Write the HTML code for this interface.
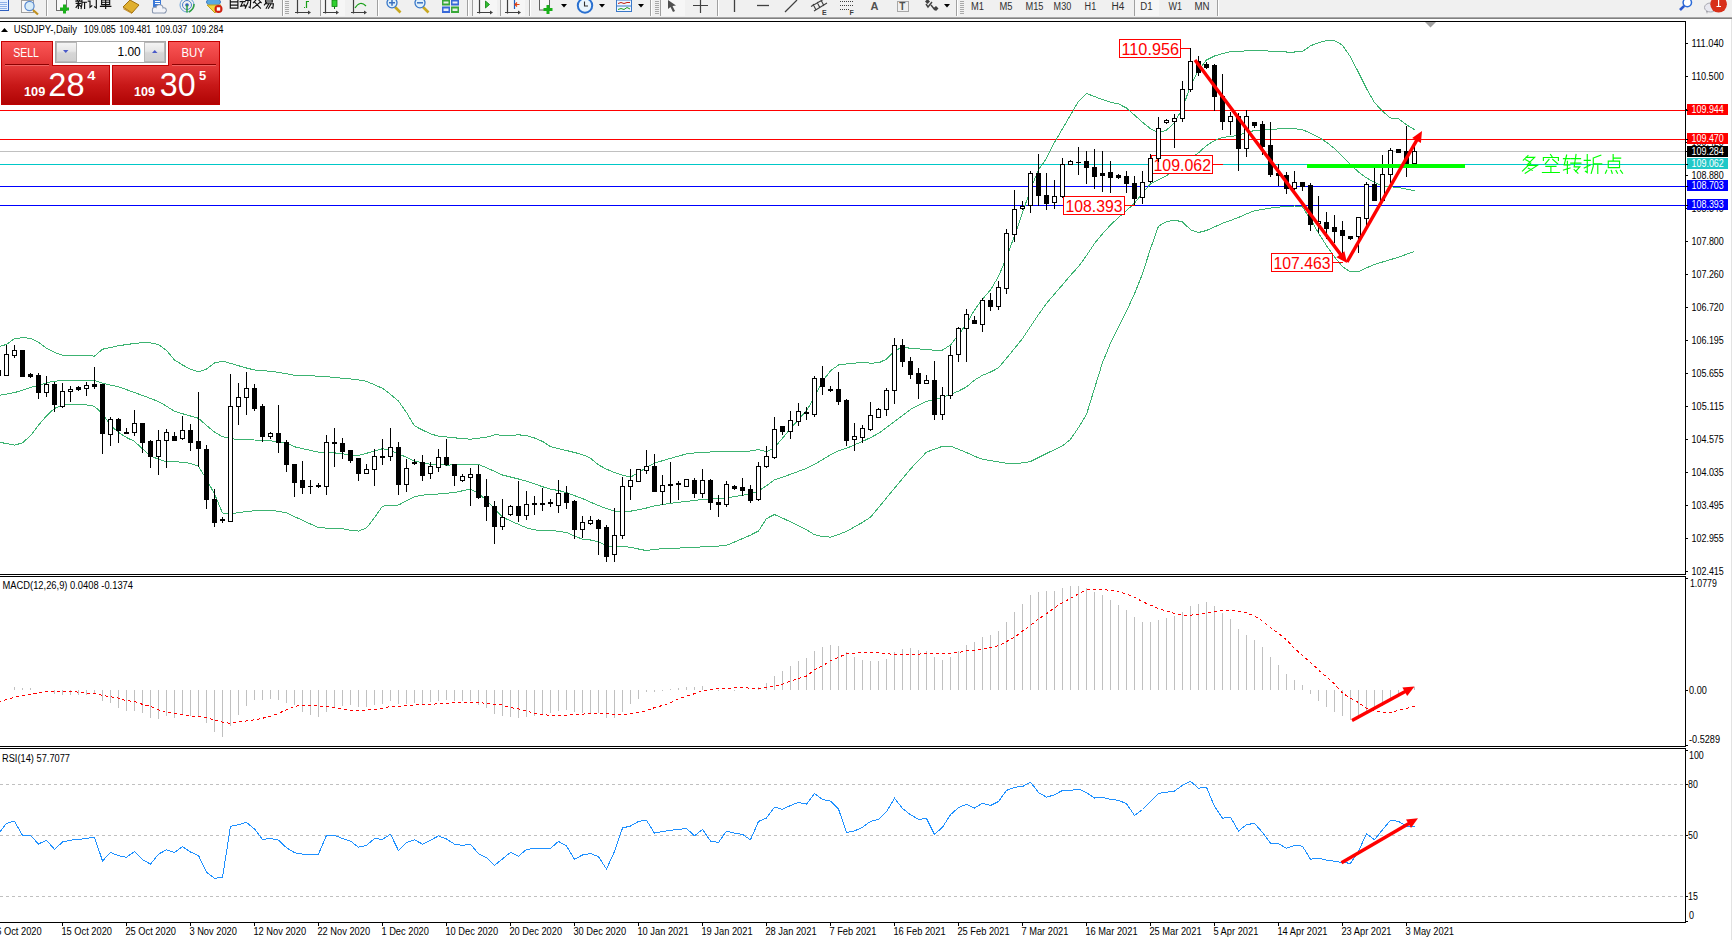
<!DOCTYPE html>
<html><head><meta charset="utf-8"><title>MT4 USDJPY Daily</title>
<style>html,body{margin:0;padding:0;background:#fff;width:1732px;height:940px;overflow:hidden}svg{display:block}</style>
</head><body>
<svg width="1732" height="940" viewBox="0 0 1732 940"><rect x="0" y="0" width="1732" height="17" fill="#f0f0f0"/>
<rect x="0" y="17" width="1732" height="1" fill="#a8a8a8"/>
<rect x="0" y="18" width="1732" height="1" fill="#808080"/>
<rect x="1731" y="19" width="1" height="921" fill="#e3e3e3"/>
<g id="tb"><g shape-rendering="crispEdges">
<rect x="0" y="0" width="9" height="11" fill="#e8f0ff"/><rect x="8" y="0" width="1" height="11" fill="#3060c0"/><rect x="0" y="10" width="9" height="1" fill="#3060c0"/>
<rect x="0" y="2" width="7" height="1" fill="#90b0e8"/>
<rect x="0" y="4" width="7" height="1" fill="#90b0e8"/>
<rect x="0" y="6" width="7" height="1" fill="#90b0e8"/>
<rect x="0" y="8" width="7" height="1" fill="#90b0e8"/>
<rect x="21" y="0" width="12" height="12" fill="#f8f8f8" stroke="#a0a0a0" stroke-width="1"/>
</g>
<circle cx="29.5" cy="6" r="4.6" fill="#d8ecf8" stroke="#5a8ad0" stroke-width="1.2"/><line x1="33" y1="10" x2="38" y2="14.5" stroke="#c09020" stroke-width="2.2"/>
<rect x="46" y="0" width="1" height="16" fill="#a0a0a0"/><rect x="47" y="0" width="1" height="16" fill="#ffffff"/>
<rect x="56.5" y="-1" width="10" height="11.5" fill="#f8f8f8" stroke="#707070" stroke-width="1"/>
<path d="M64.5,4.5 v9 M60,9 h9" stroke="#18b018" stroke-width="3"/>
<path transform="translate(75.50,-3.00) scale(1.150)" d="M2.5,0 L2.8,1 M0.5,1.5 L4.5,1.5 M1.2,2 L1.8,3.2 M3.8,2 L3.2,3.2 M0.3,3.6 L4.7,3.6 M0.6,5.6 L4.4,5.6 M2.5,3.6 L2.5,10 M2.5,6.2 L0.5,9 M2.5,6.2 L4.5,8 M9,0.5 L5.6,1.8 M5.6,1.8 L5.6,6 L4.9,10 M5.6,4.6 L9.6,4.6 M7.9,4.6 L7.9,10" fill="none" stroke="#101010" stroke-width="1.000" stroke-linecap="square" stroke-linejoin="miter"/>
<path transform="translate(87.70,-3.00) scale(1.150)" d="M1,0.5 L2,1.6 M0.5,3.6 L2,3.6 L2,9 L3.6,7.6 M4,1.6 L9.6,1.6 M7.5,1.6 L7.5,9.6 L6,8.6" fill="none" stroke="#101010" stroke-width="1.000" stroke-linecap="square" stroke-linejoin="miter"/>
<path transform="translate(99.90,-3.00) scale(1.150)" d="M2.5,0 L3.5,1.5 M7.5,0 L6.5,1.5 M1.5,2.6 L8.5,2.6 L8.5,6.6 L1.5,6.6 Z M1.5,4.6 L8.5,4.6 M0.5,8.2 L9.5,8.2 M5,2.6 L5,10" fill="none" stroke="#101010" stroke-width="1.000" stroke-linecap="square" stroke-linejoin="miter"/>
<polygon points="123,7 130,0 139,5 132,13" fill="#e0b030" stroke="#a07010" stroke-width="1"/><polygon points="124,8 132,13 132,14 123,9" fill="#c89028"/>
<rect x="153" y="0" width="8" height="7" fill="#3a78d8"/><rect x="155" y="1" width="5" height="1" fill="#ffffff"/><rect x="155" y="3" width="5" height="1" fill="#ffffff"/>
<g fill="#8a98b0"><circle cx="155" cy="10" r="3.2"/><circle cx="159.5" cy="8.2" r="4"/><circle cx="163.8" cy="10.2" r="3"/><rect x="152" y="10" width="14" height="3.6" rx="1.6"/></g>
<g fill="#f2f3f8"><circle cx="155" cy="10" r="2.2"/><circle cx="159.5" cy="8.2" r="3"/><circle cx="163.8" cy="10.2" r="2"/><rect x="153" y="10" width="12" height="2.6" rx="1"/></g>
<circle cx="187" cy="5" r="7" fill="none" stroke="#6aa0d8" stroke-width="1"/><circle cx="187" cy="5" r="4.5" fill="none" stroke="#4a80c8" stroke-width="1"/><circle cx="187" cy="5" r="1.8" fill="#3060c0"/><path d="M187,5 L187,12.5 M189,12 Q194,9 194,4" stroke="#30a040" stroke-width="1.5" fill="none"/>
<ellipse cx="213.5" cy="2" rx="7" ry="4" fill="#58a8e0" stroke="#3a78c0" stroke-width="1"/><polygon points="207,5 221,5 215,13" fill="#f0d840" stroke="#c0a020" stroke-width="1"/><circle cx="218.5" cy="9" r="4" fill="#d02010"/><rect x="216.8" y="7.3" width="3.4" height="3.4" fill="#fff"/>
<path transform="translate(228.50,-3.00) scale(1.120)" d="M5,0 L4,1.5 M1.6,1.6 L8.4,1.6 L8.4,10 L1.6,10 Z M1.6,4.4 L8.4,4.4 M1.6,7.2 L8.4,7.2" fill="none" stroke="#101010" stroke-width="1.027" stroke-linecap="square" stroke-linejoin="miter"/>
<path transform="translate(240.10,-3.00) scale(1.120)" d="M0.5,1.6 L4,1.6 M0,4.1 L4.5,4.1 M2.5,4.1 L0.6,8.2 L4.5,7.6 M3.5,6.5 L4.8,9 M5,3 L9.5,3 L9,9.6 L8,9 M7.3,0 L7,5 L4.6,10" fill="none" stroke="#101010" stroke-width="1.027" stroke-linecap="square" stroke-linejoin="miter"/>
<path transform="translate(251.70,-3.00) scale(1.120)" d="M5,0 L5.6,1 M0.5,2.1 L9.5,2.1 M3.5,3 L1.5,5 M6.5,3 L8.5,5 M3,5 L7.8,10 M7.2,5 L1,10" fill="none" stroke="#101010" stroke-width="1.027" stroke-linecap="square" stroke-linejoin="miter"/>
<path transform="translate(263.30,-3.00) scale(1.120)" d="M2,0.5 L8,0.5 L8,4.5 L2,4.5 Z M2,2.5 L8,2.5 M3,4.5 L1,7 M2.6,6 L9,6 L8.5,10 L7.5,9.5 M5,6 L2.6,10 M7,6 L4.6,10" fill="none" stroke="#101010" stroke-width="1.027" stroke-linecap="square" stroke-linejoin="miter"/>
<rect x="282" y="0" width="1" height="16" fill="#a0a0a0"/><rect x="283" y="0" width="1" height="16" fill="#ffffff"/>
<rect x="285" y="1" width="4" height="1" fill="#a8a8a8"/>
<rect x="285" y="3" width="4" height="1" fill="#a8a8a8"/>
<rect x="285" y="5" width="4" height="1" fill="#a8a8a8"/>
<rect x="285" y="7" width="4" height="1" fill="#a8a8a8"/>
<rect x="285" y="9" width="4" height="1" fill="#a8a8a8"/>
<rect x="285" y="11" width="4" height="1" fill="#a8a8a8"/>
<rect x="285" y="13" width="4" height="1" fill="#a8a8a8"/>
<path d="M297.5,0 V13.5 M295,12.5 H309" stroke="#404040" stroke-width="1.2" fill="none"/><polygon points="308,10.5 311,12.5 308,14.5" fill="#404040"/>
<path d="M306.5,1 V8 M305,7.5 H304 M306.5,1.5 H309" stroke="#18a018" stroke-width="1.2" fill="none"/>
<rect x="320" y="0" width="1" height="16" fill="#a0a0a0"/><rect x="321" y="0" width="1" height="16" fill="#ffffff"/>
<rect x="321" y="0" width="24" height="16" fill="#f6f6f6"/>
<path d="M325.5,0 V13.5 M323,12.5 H337" stroke="#404040" stroke-width="1.2" fill="none"/><polygon points="336,10.5 339,12.5 336,14.5" fill="#404040"/>
<rect x="332" y="0" width="5" height="6.5" fill="#30d030" stroke="#108010" stroke-width="0.8"/><path d="M334.5,6.5 V9" stroke="#108010" stroke-width="1"/>
<path d="M353.5,0 V13.5 M351,12.5 H365" stroke="#404040" stroke-width="1.2" fill="none"/><polygon points="364,10.5 367,12.5 364,14.5" fill="#404040"/>
<path d="M355,8 Q360,0 366,6" stroke="#18a018" stroke-width="1.2" fill="none"/>
<rect x="377" y="0" width="1" height="16" fill="#a0a0a0"/><rect x="378" y="0" width="1" height="16" fill="#ffffff"/>
<line x1="395.0" y1="7" x2="400.5" y2="12.5" stroke="#c8a820" stroke-width="2.6"/>
<circle cx="392.0" cy="2.8" r="5" fill="#e0f0fa" stroke="#3a78c8" stroke-width="1.3"/>
<path d="M389.0,2.8 h6 M392.0,-0.2 v6" stroke="#3a70c0" stroke-width="1.5" fill="none"/>
<line x1="423.0" y1="7" x2="428.5" y2="12.5" stroke="#c8a820" stroke-width="2.6"/>
<circle cx="420.0" cy="2.8" r="5" fill="#e0f0fa" stroke="#3a78c8" stroke-width="1.3"/>
<path d="M417.0,2.8 h6 " stroke="#3a70c0" stroke-width="1.5" fill="none"/>
<rect x="442" y="0" width="8" height="5.5" fill="#38a838"/><rect x="451" y="0" width="8" height="5.5" fill="#3868d8"/><rect x="442" y="6.5" width="8" height="6.5" fill="#3868d8"/><rect x="451" y="6.5" width="8" height="6.5" fill="#38a838"/>
<rect x="443.5" y="1.5" width="5" height="2" fill="#e8f0e8"/><rect x="452.5" y="1.5" width="5" height="2" fill="#e8eef8"/><rect x="443.5" y="8.5" width="5" height="2.5" fill="#e8eef8"/><rect x="452.5" y="8.5" width="5" height="2.5" fill="#e8f0e8"/>
<rect x="467" y="0" width="1" height="16" fill="#a0a0a0"/><rect x="468" y="0" width="1" height="16" fill="#ffffff"/>
<rect x="472" y="0" width="1" height="16" fill="#a0a0a0"/><rect x="473" y="0" width="1" height="16" fill="#ffffff"/>
<rect x="473" y="0" width="24" height="16" fill="#f6f6f6"/>
<path d="M479.5,0 V13.5 M477,12.5 H491" stroke="#404040" stroke-width="1.2" fill="none"/><polygon points="490,10.5 493,12.5 490,14.5" fill="#404040"/>
<polygon points="485.5,1 485.5,8 489.5,4.5" fill="#30c030" stroke="#108010" stroke-width="0.8"/>
<rect x="500" y="0" width="1" height="16" fill="#a0a0a0"/><rect x="501" y="0" width="1" height="16" fill="#ffffff"/>
<rect x="501" y="0" width="24" height="16" fill="#f6f6f6"/>
<path d="M507.5,0 V13.5 M505,12.5 H519" stroke="#404040" stroke-width="1.2" fill="none"/><polygon points="518,10.5 521,12.5 518,14.5" fill="#404040"/>
<path d="M514.5,0 V9" stroke="#2060c0" stroke-width="1.2"/><path d="M519.5,4.5 h-4 M517,2.5 l-2,2 l2,2" stroke="#e04010" stroke-width="1.2" fill="none"/>
<rect x="529" y="0" width="1" height="16" fill="#a0a0a0"/><rect x="530" y="0" width="1" height="16" fill="#ffffff"/>
<rect x="539.5" y="-1" width="10" height="11" fill="#f8f8f8" stroke="#606060" stroke-width="1"/><path d="M548,5 v9 M543.5,9.5 h9" stroke="#18b018" stroke-width="3"/>
<polygon points="561,4 567,4 564.0,7.5" fill="#000"/>
<circle cx="585" cy="5.5" r="7.2" fill="#e8f4fc" stroke="#2a70d0" stroke-width="2"/><path d="M584.5,1.5 V6 H588" stroke="#303030" stroke-width="1.1" fill="none"/>
<polygon points="599,4 605,4 602.0,7.5" fill="#000"/>
<rect x="616.5" y="0" width="15" height="11.5" fill="#f0f6ff" stroke="#3a78c8" stroke-width="1"/><rect x="617" y="5.5" width="14" height="1" fill="#3a78c8"/><path d="M618,3.5 l3,-1 l3,1 l3,-1 l3,0" stroke="#c02010" stroke-width="1" fill="none"/><path d="M618,9.5 l3,-1 l3,1 l3,-2 l3,1.5" stroke="#20a020" stroke-width="1" fill="none"/>
<polygon points="638,4 644,4 641.0,7.5" fill="#000"/>
<rect x="650" y="0" width="1" height="16" fill="#a0a0a0"/><rect x="651" y="0" width="1" height="16" fill="#ffffff"/>
<rect x="655" y="1" width="4" height="1" fill="#a8a8a8"/>
<rect x="655" y="3" width="4" height="1" fill="#a8a8a8"/>
<rect x="655" y="5" width="4" height="1" fill="#a8a8a8"/>
<rect x="655" y="7" width="4" height="1" fill="#a8a8a8"/>
<rect x="655" y="9" width="4" height="1" fill="#a8a8a8"/>
<rect x="655" y="11" width="4" height="1" fill="#a8a8a8"/>
<rect x="655" y="13" width="4" height="1" fill="#a8a8a8"/>
<rect x="660" y="0" width="1" height="16" fill="#a0a0a0"/><rect x="661" y="0" width="1" height="16" fill="#ffffff"/>
<rect x="661" y="0" width="24" height="16" fill="#f6f6f6"/>
<polygon points="668,0 676,5.5 672.5,6 675,11 673,12 670.5,7 668,9" fill="#505050"/>
<path d="M700.5,0 V13 M693,5.5 H708" stroke="#404040" stroke-width="1.2" fill="none"/>
<rect x="717" y="0" width="1" height="16" fill="#a0a0a0"/><rect x="718" y="0" width="1" height="16" fill="#ffffff"/>
<path d="M734.5,0 V12" stroke="#404040" stroke-width="1.3"/>
<path d="M757,5.5 H769" stroke="#404040" stroke-width="1.3"/>
<path d="M785,12 L797,0" stroke="#404040" stroke-width="1.2"/>
<path d="M811,6.5 L824,-1 M814,11 L827,3 M813,4 L816,10 M817,2 L820,8 M821,0 L824,6" stroke="#404040" stroke-width="1.1" fill="none"/>
<text x="822" y="14.5" font-family="'Liberation Sans',sans-serif" font-size="7" font-weight="bold" fill="#404040">E</text>
<path d="M840,1.5 H853 M840,5.5 H853 M840,9.5 H849" stroke="#404040" stroke-width="1" stroke-dasharray="1,1" fill="none"/>
<text x="849.5" y="14.5" font-family="'Liberation Sans',sans-serif" font-size="7" font-weight="bold" fill="#404040">F</text>
<text x="870.5" y="9.5" font-family="'Liberation Sans',sans-serif" font-size="11" font-weight="bold" fill="#505050">A</text>
<rect x="897.5" y="1.5" width="11" height="10" fill="none" stroke="#606060" stroke-width="1" stroke-dasharray="1,1"/><text x="899.3" y="10" font-family="'Liberation Sans',sans-serif" font-size="10" font-weight="bold" fill="#505050">T</text>
<path d="M926,4 l2,3 l4,-5 M931,5 l4,5" stroke="#404040" stroke-width="1.4" fill="none"/><polygon points="925,1.5 927.5,-1 930,1.5 927.5,4" fill="#404040"/><polygon points="933,8.5 936,6 938.5,8.5 936,11" fill="#404040"/>
<polygon points="944,4 950,4 947.0,7.5" fill="#000"/>
<rect x="956" y="0" width="1" height="16" fill="#a0a0a0"/><rect x="957" y="0" width="1" height="16" fill="#ffffff"/>
<rect x="960" y="1" width="4" height="1" fill="#a8a8a8"/>
<rect x="960" y="3" width="4" height="1" fill="#a8a8a8"/>
<rect x="960" y="5" width="4" height="1" fill="#a8a8a8"/>
<rect x="960" y="7" width="4" height="1" fill="#a8a8a8"/>
<rect x="960" y="9" width="4" height="1" fill="#a8a8a8"/>
<rect x="960" y="11" width="4" height="1" fill="#a8a8a8"/>
<rect x="960" y="13" width="4" height="1" fill="#a8a8a8"/>
<rect x="1134" y="0" width="1" height="16" fill="#a0a0a0"/><rect x="1135" y="0" width="24" height="16" fill="#f6f6f6"/>
<text x="971.0" y="9.6" textLength="13.0" lengthAdjust="spacingAndGlyphs" font-family="'Liberation Sans',sans-serif" font-size="10" fill="#303030">M1</text>
<text x="999.5" y="9.6" textLength="13.0" lengthAdjust="spacingAndGlyphs" font-family="'Liberation Sans',sans-serif" font-size="10" fill="#303030">M5</text>
<text x="1025.5" y="9.6" textLength="18.0" lengthAdjust="spacingAndGlyphs" font-family="'Liberation Sans',sans-serif" font-size="10" fill="#303030">M15</text>
<text x="1053.6" y="9.6" textLength="17.6" lengthAdjust="spacingAndGlyphs" font-family="'Liberation Sans',sans-serif" font-size="10" fill="#303030">M30</text>
<text x="1084.6" y="9.6" textLength="11.6" lengthAdjust="spacingAndGlyphs" font-family="'Liberation Sans',sans-serif" font-size="10" fill="#303030">H1</text>
<text x="1111.4" y="9.6" textLength="12.9" lengthAdjust="spacingAndGlyphs" font-family="'Liberation Sans',sans-serif" font-size="10" fill="#303030">H4</text>
<text x="1140.2" y="9.6" textLength="12.3" lengthAdjust="spacingAndGlyphs" font-family="'Liberation Sans',sans-serif" font-size="10" fill="#303030">D1</text>
<text x="1168.4" y="9.6" textLength="13.6" lengthAdjust="spacingAndGlyphs" font-family="'Liberation Sans',sans-serif" font-size="10" fill="#303030">W1</text>
<text x="1194.4" y="9.6" textLength="15.1" lengthAdjust="spacingAndGlyphs" font-family="'Liberation Sans',sans-serif" font-size="10" fill="#303030">MN</text>
<rect x="1217" y="0" width="1" height="16" fill="#a0a0a0"/><rect x="1218" y="0" width="1" height="16" fill="#ffffff"/>
<circle cx="1687.3" cy="2.6" r="4.2" fill="#fff" stroke="#2a6ad8" stroke-width="1.5"/><line x1="1684.2" y1="5.8" x2="1680" y2="10" stroke="#2a5ad0" stroke-width="2.6"/>
<ellipse cx="1710.5" cy="7.5" rx="6" ry="4.5" fill="#e8e8f0" stroke="#a8a8b0" stroke-width="1"/><polygon points="1706,11 1708,11 1707,14" fill="#a0a0a8"/>
<circle cx="1718.6" cy="4.3" r="8.3" fill="#d8301a"/><path d="M1718.6,-1 V6.5 M1716.5,6.5 H1721" stroke="#fff" stroke-width="1.2"/></g>
<g shape-rendering="crispEdges" fill="#000">
<rect x="0" y="21" width="1686" height="1"/>
<rect x="1685" y="21" width="1" height="554"/>
<rect x="0" y="574" width="1686" height="1"/>
<rect x="0" y="576" width="1686" height="1"/>
<rect x="1685" y="576" width="1" height="171"/>
<rect x="0" y="746" width="1686" height="1"/>
<rect x="0" y="748" width="1686" height="1"/>
<rect x="1685" y="748" width="1" height="175"/>
<rect x="0" y="922" width="1686" height="1"/>
</g>

<g shape-rendering="crispEdges">
<rect x="0" y="110" width="1685" height="1" fill="#ff0000"/>
<rect x="0" y="139" width="1685" height="1" fill="#ff0000"/>
<rect x="0" y="151" width="1685" height="1" fill="#c0c0c0"/>
<rect x="0" y="164" width="1685" height="1" fill="#00c8c8"/>
<rect x="0" y="186" width="1685" height="1" fill="#0000ff"/>
<rect x="0" y="205" width="1685" height="1" fill="#0000ff"/>
<line x1="0" y1="784.5" x2="1685" y2="784.5" stroke="#c0c0c0" stroke-width="1" stroke-dasharray="3,3"/>
<line x1="0" y1="835.5" x2="1685" y2="835.5" stroke="#c0c0c0" stroke-width="1" stroke-dasharray="3,3"/>
<line x1="0" y1="896.5" x2="1685" y2="896.5" stroke="#c0c0c0" stroke-width="1" stroke-dasharray="3,3"/>
<rect x="14" y="687" width="1" height="3" fill="#c0c0c0"/>
<rect x="22" y="688" width="1" height="2" fill="#c0c0c0"/>
<rect x="30" y="688" width="1" height="2" fill="#c0c0c0"/>
<rect x="54" y="690" width="1" height="4" fill="#c0c0c0"/>
<rect x="62" y="690" width="1" height="5" fill="#c0c0c0"/>
<rect x="70" y="690" width="1" height="5" fill="#c0c0c0"/>
<rect x="78" y="690" width="1" height="5" fill="#c0c0c0"/>
<rect x="86" y="690" width="1" height="5" fill="#c0c0c0"/>
<rect x="94" y="690" width="1" height="4" fill="#c0c0c0"/>
<rect x="102" y="690" width="1" height="11" fill="#c0c0c0"/>
<rect x="110" y="690" width="1" height="13" fill="#c0c0c0"/>
<rect x="118" y="690" width="1" height="18" fill="#c0c0c0"/>
<rect x="126" y="690" width="1" height="21" fill="#c0c0c0"/>
<rect x="134" y="690" width="1" height="21" fill="#c0c0c0"/>
<rect x="142" y="690" width="1" height="23" fill="#c0c0c0"/>
<rect x="150" y="690" width="1" height="28" fill="#c0c0c0"/>
<rect x="158" y="690" width="1" height="29" fill="#c0c0c0"/>
<rect x="166" y="690" width="1" height="26" fill="#c0c0c0"/>
<rect x="174" y="690" width="1" height="28" fill="#c0c0c0"/>
<rect x="182" y="690" width="1" height="25" fill="#c0c0c0"/>
<rect x="190" y="690" width="1" height="26" fill="#c0c0c0"/>
<rect x="198" y="690" width="1" height="27" fill="#c0c0c0"/>
<rect x="206" y="690" width="1" height="33" fill="#c0c0c0"/>
<rect x="214" y="690" width="1" height="42" fill="#c0c0c0"/>
<rect x="222" y="690" width="1" height="47" fill="#c0c0c0"/>
<rect x="230" y="690" width="1" height="36" fill="#c0c0c0"/>
<rect x="238" y="690" width="1" height="25" fill="#c0c0c0"/>
<rect x="246" y="690" width="1" height="16" fill="#c0c0c0"/>
<rect x="254" y="690" width="1" height="10" fill="#c0c0c0"/>
<rect x="262" y="690" width="1" height="10" fill="#c0c0c0"/>
<rect x="270" y="690" width="1" height="9" fill="#c0c0c0"/>
<rect x="278" y="690" width="1" height="10" fill="#c0c0c0"/>
<rect x="286" y="690" width="1" height="13" fill="#c0c0c0"/>
<rect x="294" y="690" width="1" height="15" fill="#c0c0c0"/>
<rect x="302" y="690" width="1" height="22" fill="#c0c0c0"/>
<rect x="310" y="690" width="1" height="25" fill="#c0c0c0"/>
<rect x="318" y="690" width="1" height="27" fill="#c0c0c0"/>
<rect x="326" y="690" width="1" height="22" fill="#c0c0c0"/>
<rect x="334" y="690" width="1" height="18" fill="#c0c0c0"/>
<rect x="342" y="690" width="1" height="16" fill="#c0c0c0"/>
<rect x="350" y="690" width="1" height="15" fill="#c0c0c0"/>
<rect x="358" y="690" width="1" height="17" fill="#c0c0c0"/>
<rect x="366" y="690" width="1" height="17" fill="#c0c0c0"/>
<rect x="374" y="690" width="1" height="15" fill="#c0c0c0"/>
<rect x="382" y="690" width="1" height="14" fill="#c0c0c0"/>
<rect x="390" y="690" width="1" height="11" fill="#c0c0c0"/>
<rect x="398" y="690" width="1" height="14" fill="#c0c0c0"/>
<rect x="406" y="690" width="1" height="14" fill="#c0c0c0"/>
<rect x="414" y="690" width="1" height="13" fill="#c0c0c0"/>
<rect x="422" y="690" width="1" height="14" fill="#c0c0c0"/>
<rect x="430" y="690" width="1" height="12" fill="#c0c0c0"/>
<rect x="438" y="690" width="1" height="11" fill="#c0c0c0"/>
<rect x="446" y="690" width="1" height="10" fill="#c0c0c0"/>
<rect x="454" y="690" width="1" height="11" fill="#c0c0c0"/>
<rect x="462" y="690" width="1" height="11" fill="#c0c0c0"/>
<rect x="470" y="690" width="1" height="11" fill="#c0c0c0"/>
<rect x="478" y="690" width="1" height="15" fill="#c0c0c0"/>
<rect x="486" y="690" width="1" height="18" fill="#c0c0c0"/>
<rect x="494" y="690" width="1" height="24" fill="#c0c0c0"/>
<rect x="502" y="690" width="1" height="26" fill="#c0c0c0"/>
<rect x="510" y="690" width="1" height="27" fill="#c0c0c0"/>
<rect x="518" y="690" width="1" height="28" fill="#c0c0c0"/>
<rect x="526" y="690" width="1" height="27" fill="#c0c0c0"/>
<rect x="534" y="690" width="1" height="26" fill="#c0c0c0"/>
<rect x="542" y="690" width="1" height="24" fill="#c0c0c0"/>
<rect x="550" y="690" width="1" height="23" fill="#c0c0c0"/>
<rect x="558" y="690" width="1" height="21" fill="#c0c0c0"/>
<rect x="566" y="690" width="1" height="20" fill="#c0c0c0"/>
<rect x="574" y="690" width="1" height="22" fill="#c0c0c0"/>
<rect x="582" y="690" width="1" height="23" fill="#c0c0c0"/>
<rect x="590" y="690" width="1" height="23" fill="#c0c0c0"/>
<rect x="598" y="690" width="1" height="23" fill="#c0c0c0"/>
<rect x="606" y="690" width="1" height="28" fill="#c0c0c0"/>
<rect x="614" y="690" width="1" height="28" fill="#c0c0c0"/>
<rect x="622" y="690" width="1" height="22" fill="#c0c0c0"/>
<rect x="630" y="690" width="1" height="14" fill="#c0c0c0"/>
<rect x="638" y="690" width="1" height="9" fill="#c0c0c0"/>
<rect x="646" y="690" width="1" height="2" fill="#c0c0c0"/>
<rect x="654" y="690" width="1" height="2" fill="#c0c0c0"/>
<rect x="662" y="690" width="1" height="1" fill="#c0c0c0"/>
<rect x="670" y="689" width="1" height="1" fill="#c0c0c0"/>
<rect x="678" y="688" width="1" height="2" fill="#c0c0c0"/>
<rect x="686" y="687" width="1" height="3" fill="#c0c0c0"/>
<rect x="694" y="687" width="1" height="3" fill="#c0c0c0"/>
<rect x="702" y="686" width="1" height="4" fill="#c0c0c0"/>
<rect x="710" y="689" width="1" height="1" fill="#c0c0c0"/>
<rect x="718" y="690" width="1" height="1" fill="#c0c0c0"/>
<rect x="734" y="690" width="1" height="1" fill="#c0c0c0"/>
<rect x="758" y="687" width="1" height="3" fill="#c0c0c0"/>
<rect x="766" y="683" width="1" height="7" fill="#c0c0c0"/>
<rect x="774" y="676" width="1" height="14" fill="#c0c0c0"/>
<rect x="782" y="671" width="1" height="19" fill="#c0c0c0"/>
<rect x="790" y="666" width="1" height="24" fill="#c0c0c0"/>
<rect x="798" y="661" width="1" height="29" fill="#c0c0c0"/>
<rect x="806" y="658" width="1" height="32" fill="#c0c0c0"/>
<rect x="814" y="651" width="1" height="39" fill="#c0c0c0"/>
<rect x="822" y="647" width="1" height="43" fill="#c0c0c0"/>
<rect x="830" y="645" width="1" height="45" fill="#c0c0c0"/>
<rect x="838" y="646" width="1" height="44" fill="#c0c0c0"/>
<rect x="846" y="652" width="1" height="38" fill="#c0c0c0"/>
<rect x="854" y="657" width="1" height="33" fill="#c0c0c0"/>
<rect x="862" y="660" width="1" height="30" fill="#c0c0c0"/>
<rect x="870" y="661" width="1" height="29" fill="#c0c0c0"/>
<rect x="878" y="661" width="1" height="29" fill="#c0c0c0"/>
<rect x="886" y="659" width="1" height="31" fill="#c0c0c0"/>
<rect x="894" y="652" width="1" height="38" fill="#c0c0c0"/>
<rect x="902" y="649" width="1" height="41" fill="#c0c0c0"/>
<rect x="910" y="648" width="1" height="42" fill="#c0c0c0"/>
<rect x="918" y="650" width="1" height="40" fill="#c0c0c0"/>
<rect x="926" y="651" width="1" height="39" fill="#c0c0c0"/>
<rect x="934" y="657" width="1" height="33" fill="#c0c0c0"/>
<rect x="942" y="660" width="1" height="30" fill="#c0c0c0"/>
<rect x="950" y="657" width="1" height="33" fill="#c0c0c0"/>
<rect x="958" y="651" width="1" height="39" fill="#c0c0c0"/>
<rect x="966" y="645" width="1" height="45" fill="#c0c0c0"/>
<rect x="974" y="642" width="1" height="48" fill="#c0c0c0"/>
<rect x="982" y="637" width="1" height="53" fill="#c0c0c0"/>
<rect x="990" y="635" width="1" height="55" fill="#c0c0c0"/>
<rect x="998" y="631" width="1" height="59" fill="#c0c0c0"/>
<rect x="1006" y="622" width="1" height="68" fill="#c0c0c0"/>
<rect x="1014" y="612" width="1" height="78" fill="#c0c0c0"/>
<rect x="1022" y="604" width="1" height="86" fill="#c0c0c0"/>
<rect x="1030" y="595" width="1" height="95" fill="#c0c0c0"/>
<rect x="1038" y="592" width="1" height="98" fill="#c0c0c0"/>
<rect x="1046" y="591" width="1" height="99" fill="#c0c0c0"/>
<rect x="1054" y="591" width="1" height="99" fill="#c0c0c0"/>
<rect x="1062" y="588" width="1" height="102" fill="#c0c0c0"/>
<rect x="1070" y="586" width="1" height="104" fill="#c0c0c0"/>
<rect x="1078" y="586" width="1" height="104" fill="#c0c0c0"/>
<rect x="1086" y="588" width="1" height="102" fill="#c0c0c0"/>
<rect x="1094" y="592" width="1" height="98" fill="#c0c0c0"/>
<rect x="1102" y="595" width="1" height="95" fill="#c0c0c0"/>
<rect x="1110" y="600" width="1" height="90" fill="#c0c0c0"/>
<rect x="1118" y="605" width="1" height="85" fill="#c0c0c0"/>
<rect x="1126" y="610" width="1" height="80" fill="#c0c0c0"/>
<rect x="1134" y="617" width="1" height="73" fill="#c0c0c0"/>
<rect x="1142" y="622" width="1" height="68" fill="#c0c0c0"/>
<rect x="1150" y="622" width="1" height="68" fill="#c0c0c0"/>
<rect x="1158" y="620" width="1" height="70" fill="#c0c0c0"/>
<rect x="1166" y="618" width="1" height="72" fill="#c0c0c0"/>
<rect x="1174" y="616" width="1" height="74" fill="#c0c0c0"/>
<rect x="1182" y="612" width="1" height="78" fill="#c0c0c0"/>
<rect x="1190" y="606" width="1" height="84" fill="#c0c0c0"/>
<rect x="1198" y="604" width="1" height="86" fill="#c0c0c0"/>
<rect x="1206" y="602" width="1" height="88" fill="#c0c0c0"/>
<rect x="1214" y="606" width="1" height="84" fill="#c0c0c0"/>
<rect x="1222" y="613" width="1" height="77" fill="#c0c0c0"/>
<rect x="1230" y="619" width="1" height="71" fill="#c0c0c0"/>
<rect x="1238" y="629" width="1" height="61" fill="#c0c0c0"/>
<rect x="1246" y="635" width="1" height="55" fill="#c0c0c0"/>
<rect x="1254" y="640" width="1" height="50" fill="#c0c0c0"/>
<rect x="1262" y="647" width="1" height="43" fill="#c0c0c0"/>
<rect x="1270" y="657" width="1" height="33" fill="#c0c0c0"/>
<rect x="1278" y="665" width="1" height="25" fill="#c0c0c0"/>
<rect x="1286" y="674" width="1" height="16" fill="#c0c0c0"/>
<rect x="1294" y="680" width="1" height="10" fill="#c0c0c0"/>
<rect x="1302" y="685" width="1" height="5" fill="#c0c0c0"/>
<rect x="1310" y="690" width="1" height="4" fill="#c0c0c0"/>
<rect x="1318" y="690" width="1" height="11" fill="#c0c0c0"/>
<rect x="1326" y="690" width="1" height="17" fill="#c0c0c0"/>
<rect x="1334" y="690" width="1" height="22" fill="#c0c0c0"/>
<rect x="1342" y="690" width="1" height="26" fill="#c0c0c0"/>
<rect x="1350" y="690" width="1" height="30" fill="#c0c0c0"/>
<rect x="1358" y="690" width="1" height="29" fill="#c0c0c0"/>
<rect x="1366" y="690" width="1" height="22" fill="#c0c0c0"/>
<rect x="1374" y="690" width="1" height="18" fill="#c0c0c0"/>
<rect x="1382" y="690" width="1" height="16" fill="#c0c0c0"/>
<rect x="1390" y="690" width="1" height="10" fill="#c0c0c0"/>
<rect x="1398" y="690" width="1" height="4" fill="#c0c0c0"/>
<rect x="1414" y="687" width="1" height="3" fill="#c0c0c0"/>
</g>
<polyline points="-1.5,346.9 6.5,344.4 14.5,338.7 22.5,337.6 30.5,338.3 38.5,342.3 46.5,348.2 54.5,352.4 62.5,355.1 70.5,355.6 78.5,355.6 86.5,355.6 94.5,356.1 102.5,349.2 110.5,347.6 118.5,345.7 126.5,344.6 134.5,343.4 142.5,342.7 150.5,342.8 158.5,344.6 166.5,350.5 174.5,359.9 182.5,365.0 190.5,369.2 198.5,371.9 206.5,369.1 214.5,363.0 222.5,361.2 230.5,363.3 238.5,365.7 246.5,368.0 254.5,370.0 262.5,370.7 270.5,371.3 278.5,372.3 286.5,373.8 294.5,375.2 302.5,375.5 310.5,375.8 318.5,376.2 326.5,376.7 334.5,377.5 342.5,378.2 350.5,379.0 358.5,380.0 366.5,381.3 374.5,384.8 382.5,388.3 390.5,394.3 398.5,401.1 406.5,412.5 414.5,425.9 422.5,430.0 430.5,433.8 438.5,436.2 446.5,437.0 454.5,437.8 462.5,438.6 470.5,439.2 478.5,438.2 486.5,437.2 494.5,434.9 502.5,435.1 510.5,435.5 518.5,434.8 526.5,435.6 534.5,438.0 542.5,441.4 550.5,446.6 558.5,448.7 566.5,450.5 574.5,452.5 582.5,454.6 590.5,458.2 598.5,464.9 606.5,469.2 614.5,472.5 622.5,475.2 630.5,477.2 638.5,472.6 646.5,467.4 654.5,463.1 662.5,460.7 670.5,458.4 678.5,456.1 686.5,453.9 694.5,453.0 702.5,452.2 710.5,452.0 718.5,451.8 726.5,451.6 734.5,451.4 742.5,451.2 750.5,451.0 758.5,449.5 766.5,451.8 774.5,447.5 782.5,438.2 790.5,428.6 798.5,419.6 806.5,410.6 814.5,397.2 822.5,381.2 830.5,370.8 838.5,365.0 846.5,363.9 854.5,363.1 862.5,362.6 870.5,363.1 878.5,362.9 886.5,359.2 894.5,351.2 902.5,346.8 910.5,348.4 918.5,348.9 926.5,349.5 934.5,350.2 942.5,350.1 950.5,345.0 958.5,334.9 966.5,323.7 974.5,310.1 982.5,299.2 990.5,289.9 998.5,276.5 1006.5,257.6 1014.5,235.6 1022.5,212.8 1030.5,189.5 1038.5,169.8 1046.5,158.4 1054.5,142.4 1078.5,101.3 1086.5,93.5 1094.5,96.5 1102.5,99.6 1110.5,102.2 1118.5,103.9 1126.5,108.0 1134.5,115.1 1142.5,122.3 1150.5,128.7 1158.5,132.7 1166.5,130.2 1174.5,122.3 1182.5,108.6 1190.5,85.4 1198.5,70.5 1206.5,60.0 1214.5,56.0 1222.5,53.5 1230.5,51.6 1238.5,51.2 1246.5,50.9 1254.5,50.6 1262.5,50.8 1270.5,51.1 1278.5,51.5 1286.5,52.0 1294.5,52.0 1302.5,51.5 1310.5,45.8 1318.5,42.7 1326.5,40.6 1334.5,40.6 1342.5,45.2 1350.5,57.0 1358.5,72.5 1366.5,88.5 1374.5,102.5 1382.5,111.3 1390.5,118.0 1398.5,118.8 1406.5,124.8 1414.5,129.6" fill="none" stroke="#3cb371" stroke-width="1" shape-rendering="crispEdges"/>
<polyline points="-1.5,395.4 6.5,394.1 14.5,392.6 22.5,390.2 30.5,387.4 38.5,385.5 46.5,382.7 54.5,381.3 62.5,380.4 70.5,380.4 78.5,380.4 86.5,380.4 94.5,380.4 102.5,383.2 110.5,385.1 118.5,386.7 126.5,389.6 134.5,392.6 142.5,395.4 150.5,398.5 158.5,401.5 166.5,406.2 174.5,411.3 182.5,413.7 190.5,416.0 198.5,418.3 206.5,425.4 214.5,432.0 222.5,436.7 230.5,438.6 238.5,439.6 246.5,439.8 254.5,440.0 262.5,440.2 270.5,440.9 278.5,441.7 286.5,442.7 294.5,446.8 302.5,448.6 310.5,450.4 318.5,452.2 326.5,452.6 334.5,452.9 342.5,453.8 350.5,455.0 358.5,455.3 366.5,453.3 374.5,451.1 382.5,448.7 390.5,450.5 398.5,453.7 406.5,457.3 414.5,461.0 422.5,462.7 430.5,464.2 438.5,464.7 446.5,465.1 454.5,464.9 462.5,464.7 470.5,464.5 478.5,464.4 486.5,467.8 494.5,471.4 502.5,475.0 510.5,477.0 518.5,479.0 526.5,481.1 534.5,483.9 542.5,486.7 550.5,489.2 558.5,490.5 566.5,492.6 574.5,495.6 582.5,498.6 590.5,502.1 598.5,505.6 606.5,508.5 614.5,511.2 622.5,511.2 630.5,511.2 638.5,509.7 646.5,508.0 654.5,505.9 662.5,504.5 670.5,503.3 678.5,502.3 686.5,501.4 694.5,500.4 702.5,499.5 710.5,498.9 718.5,498.6 726.5,497.9 734.5,496.6 742.5,495.2 750.5,493.9 758.5,491.0 766.5,485.7 774.5,479.7 782.5,477.1 790.5,474.3 798.5,471.3 806.5,468.3 814.5,464.4 822.5,459.7 830.5,454.7 838.5,450.7 846.5,448.3 854.5,444.8 862.5,441.4 870.5,437.6 878.5,433.4 886.5,427.4 894.5,421.4 902.5,415.4 910.5,409.4 918.5,405.4 926.5,401.4 934.5,399.7 942.5,397.3 950.5,394.4 958.5,391.1 966.5,386.9 974.5,380.1 982.5,375.3 990.5,372.0 998.5,367.9 1006.5,358.2 1014.5,348.5 1022.5,338.6 1030.5,326.6 1038.5,314.6 1046.5,303.4 1054.5,294.0 1062.5,284.8 1070.5,275.3 1078.5,266.5 1086.5,255.6 1094.5,243.4 1102.5,233.8 1110.5,225.0 1118.5,217.5 1126.5,210.6 1134.5,203.2 1142.5,193.2 1150.5,183.8 1158.5,179.8 1166.5,175.8 1198.5,152.8 1206.5,145.6 1214.5,140.5 1222.5,137.4 1230.5,136.6 1238.5,135.1 1246.5,132.6 1254.5,130.5 1262.5,130.0 1270.5,129.5 1278.5,128.9 1286.5,128.3 1294.5,128.7 1302.5,129.7 1310.5,133.2 1318.5,137.1 1326.5,142.2 1334.5,148.6 1342.5,156.4 1350.5,164.4 1358.5,172.1 1366.5,177.9 1374.5,182.5 1382.5,185.6 1390.5,186.7 1398.5,187.6 1406.5,189.1 1414.5,190.6" fill="none" stroke="#3cb371" stroke-width="1" shape-rendering="crispEdges"/>
<polyline points="-1.5,442.2 6.5,443.5 14.5,445.2 22.5,442.8 30.5,435.8 38.5,425.2 46.5,415.8 54.5,408.4 62.5,405.4 70.5,404.3 78.5,404.7 86.5,405.0 94.5,406.3 102.5,413.9 110.5,425.3 118.5,432.4 126.5,437.5 134.5,441.4 142.5,448.9 150.5,455.8 158.5,459.3 166.5,461.6 174.5,461.6 182.5,462.3 190.5,463.3 198.5,466.3 206.5,479.3 214.5,493.9 222.5,513.0 230.5,513.6 238.5,512.7 246.5,511.5 254.5,510.8 262.5,510.6 270.5,510.5 278.5,511.2 286.5,512.9 294.5,516.6 302.5,520.3 310.5,524.0 318.5,527.7 326.5,528.1 334.5,528.3 342.5,528.8 350.5,530.2 358.5,531.1 366.5,527.9 374.5,517.7 382.5,506.1 390.5,505.6 398.5,505.0 406.5,500.8 414.5,496.6 422.5,495.2 430.5,494.2 438.5,494.0 446.5,493.3 454.5,492.5 462.5,490.8 470.5,489.0 478.5,493.3 486.5,500.4 494.5,508.9 502.5,517.2 510.5,520.8 518.5,524.4 526.5,527.8 534.5,529.8 542.5,530.9 550.5,530.5 558.5,531.2 566.5,532.5 574.5,535.9 582.5,539.3 590.5,540.0 598.5,541.8 606.5,545.8 614.5,547.1 622.5,546.5 630.5,547.2 638.5,549.0 646.5,550.6 654.5,549.3 662.5,548.8 670.5,548.4 678.5,548.1 686.5,547.7 694.5,547.3 702.5,546.9 710.5,546.5 718.5,546.1 726.5,545.3 734.5,542.0 742.5,538.6 750.5,535.1 758.5,531.0 766.5,518.6 774.5,514.5 782.5,518.1 790.5,521.8 798.5,525.8 806.5,529.8 814.5,534.7 822.5,536.5 830.5,537.1 838.5,534.5 846.5,531.4 854.5,526.9 862.5,522.4 870.5,517.2 910.5,469.0 918.5,460.3 926.5,452.2 934.5,449.1 942.5,446.3 950.5,446.1 958.5,449.3 966.5,452.5 974.5,456.3 982.5,459.1 990.5,460.6 998.5,461.9 1006.5,463.2 1014.5,463.7 1022.5,462.9 1030.5,461.5 1038.5,457.5 1046.5,453.5 1062.5,445.8 1070.5,439.4 1078.5,427.5 1086.5,414.4 1094.5,388.4 1102.5,362.6 1110.5,343.2 1118.5,327.2 1126.5,311.2 1134.5,293.7 1142.5,273.7 1150.5,248.7 1158.5,226.1 1166.5,221.6 1174.5,220.1 1182.5,221.9 1190.5,229.7 1198.5,232.5 1206.5,230.5 1214.5,226.9 1222.5,223.3 1230.5,220.5 1238.5,217.4 1246.5,213.9 1254.5,210.8 1262.5,209.4 1270.5,208.1 1278.5,207.2 1286.5,206.4 1294.5,206.0 1302.5,207.0 1310.5,219.2 1318.5,233.1 1326.5,245.7 1334.5,256.9 1342.5,266.6 1350.5,272.0 1358.5,271.9 1366.5,267.9 1374.5,264.4 1382.5,262.0 1390.5,259.6 1398.5,257.2 1406.5,254.3 1414.5,251.5" fill="none" stroke="#3cb371" stroke-width="1" shape-rendering="crispEdges"/>
<polyline points="-1.5,701.7 6.5,699.5 14.5,697.5 22.5,695.3 30.5,694.4 38.5,692.6 46.5,691.2 54.5,691.2 62.5,691.4 70.5,691.4 78.5,692.1 86.5,693.5 94.5,693.5 102.5,695.3 110.5,696.8 118.5,698.1 126.5,700.8 134.5,701.3 142.5,704.4 150.5,706.2 158.5,709.8 166.5,712.0 174.5,713.4 182.5,714.3 190.5,716.1 198.5,716.7 206.5,717.4 214.5,720.3 222.5,722.1 230.5,723.4 238.5,722.1 246.5,721.0 254.5,719.8 262.5,718.3 270.5,716.1 278.5,713.4 286.5,709.8 294.5,706.2 302.5,705.5 310.5,705.5 318.5,705.8 326.5,706.7 334.5,707.9 342.5,708.9 350.5,710.2 358.5,710.5 366.5,710.2 374.5,709.3 382.5,708.4 390.5,706.3 398.5,706.2 406.5,705.5 414.5,705.1 422.5,704.6 430.5,704.4 438.5,703.7 446.5,703.4 454.5,702.4 462.5,702.4 470.5,702.4 478.5,702.4 486.5,703.4 494.5,704.1 502.5,705.1 510.5,707.6 518.5,708.8 526.5,711.0 534.5,713.6 542.5,714.5 550.5,715.4 558.5,715.4 566.5,715.4 574.5,714.5 582.5,714.1 590.5,713.6 598.5,713.6 606.5,713.6 614.5,714.5 622.5,714.5 630.5,713.6 638.5,712.4 646.5,710.7 654.5,707.6 662.5,705.5 670.5,702.7 678.5,698.9 686.5,696.3 694.5,693.7 702.5,690.6 710.5,689.5 718.5,688.5 726.5,688.5 734.5,687.8 742.5,687.5 750.5,688.2 758.5,688.5 766.5,687.1 774.5,686.4 782.5,684.2 790.5,681.2 798.5,678.5 806.5,676.0 814.5,669.8 822.5,666.0 830.5,660.8 838.5,657.3 846.5,653.9 854.5,653.3 862.5,652.5 870.5,652.5 878.5,652.5 886.5,653.6 894.5,654.5 902.5,654.5 910.5,654.5 918.5,654.1 926.5,653.6 934.5,653.6 942.5,653.6 950.5,653.6 958.5,652.4 966.5,651.0 974.5,650.2 982.5,649.3 990.5,647.2 998.5,645.8 1006.5,641.5 1014.5,637.2 1022.5,631.1 1030.5,625.4 1038.5,619.0 1046.5,613.8 1054.5,607.7 1062.5,602.9 1070.5,598.2 1078.5,593.9 1086.5,590.0 1094.5,589.5 1102.5,589.5 1110.5,590.4 1118.5,591.8 1126.5,593.9 1134.5,597.3 1142.5,601.7 1150.5,605.1 1158.5,608.6 1166.5,611.2 1174.5,613.3 1182.5,615.5 1190.5,615.2 1198.5,614.1 1206.5,613.3 1214.5,612.0 1222.5,610.5 1230.5,610.5 1238.5,611.5 1246.5,612.9 1254.5,616.0 1262.5,621.2 1270.5,627.6 1278.5,633.4 1286.5,639.8 1294.5,648.4 1302.5,655.4 1310.5,662.3 1318.5,670.1 1326.5,677.0 1334.5,683.9 1342.5,693.0 1350.5,698.1 1358.5,702.5 1366.5,708.3 1374.5,710.8 1382.5,712.4 1390.5,712.4 1398.5,710.5 1406.5,708.3 1414.5,706.4" fill="none" stroke="#ff0000" stroke-width="1" stroke-dasharray="3,3" shape-rendering="crispEdges"/>
<polyline points="-1.5,833.7 6.5,823.3 14.5,821.2 22.5,835.4 30.5,835.4 38.5,844.0 46.5,840.2 54.5,849.4 62.5,842.0 70.5,840.2 78.5,839.4 86.5,838.5 94.5,837.1 102.5,861.0 110.5,852.4 118.5,855.8 126.5,857.2 134.5,851.5 142.5,859.6 150.5,864.1 158.5,854.1 166.5,849.8 174.5,852.4 182.5,846.6 190.5,852.0 198.5,855.5 206.5,872.3 214.5,878.3 222.5,877.5 230.5,826.4 238.5,824.6 246.5,822.4 254.5,829.0 262.5,839.4 270.5,838.5 278.5,840.2 286.5,847.7 294.5,852.7 302.5,854.1 310.5,854.1 318.5,854.1 326.5,835.4 334.5,835.4 342.5,838.5 350.5,841.1 358.5,847.2 366.5,845.4 374.5,838.5 382.5,839.4 390.5,834.2 398.5,850.6 406.5,842.5 414.5,839.7 422.5,844.2 430.5,840.2 438.5,835.9 446.5,839.0 454.5,844.2 462.5,845.4 470.5,844.2 478.5,853.7 486.5,857.6 494.5,865.4 502.5,858.9 510.5,852.4 518.5,856.2 526.5,849.4 534.5,848.4 542.5,848.4 550.5,848.4 558.5,841.4 566.5,846.0 574.5,859.3 582.5,855.0 590.5,853.5 598.5,856.6 606.5,869.1 614.5,851.4 622.5,828.0 630.5,826.0 638.5,821.4 646.5,820.2 654.5,833.2 662.5,831.5 670.5,830.3 678.5,829.4 686.5,828.4 694.5,835.8 702.5,829.4 710.5,841.0 718.5,842.4 726.5,831.1 734.5,833.2 742.5,834.4 750.5,839.8 758.5,821.4 766.5,818.0 774.5,807.2 782.5,809.3 790.5,805.5 798.5,802.4 806.5,804.1 814.5,793.4 822.5,799.4 830.5,801.2 838.5,809.0 846.5,832.4 854.5,831.0 862.5,827.2 870.5,821.4 878.5,819.4 886.5,811.6 894.5,798.2 902.5,808.5 910.5,814.7 918.5,819.4 926.5,818.5 934.5,834.4 942.5,827.2 950.5,814.7 958.5,807.6 966.5,804.3 974.5,808.1 982.5,803.3 990.5,805.5 998.5,801.5 1006.5,790.4 1014.5,787.3 1022.5,786.5 1030.5,782.1 1038.5,792.5 1046.5,797.2 1054.5,794.8 1062.5,790.4 1070.5,790.4 1078.5,789.1 1086.5,792.5 1094.5,798.1 1102.5,797.2 1110.5,799.4 1118.5,800.3 1126.5,803.8 1134.5,815.4 1142.5,809.5 1150.5,801.5 1158.5,793.4 1166.5,792.2 1174.5,791.1 1182.5,785.2 1190.5,781.3 1198.5,788.2 1206.5,787.3 1214.5,806.4 1222.5,818.2 1230.5,817.1 1238.5,831.1 1246.5,824.6 1254.5,823.4 1262.5,832.4 1270.5,843.1 1278.5,843.6 1286.5,848.3 1294.5,845.4 1302.5,846.2 1310.5,859.2 1318.5,858.3 1326.5,860.1 1334.5,861.3 1342.5,862.7 1350.5,863.2 1358.5,851.4 1366.5,833.6 1374.5,839.8 1382.5,829.8 1390.5,820.2 1398.5,821.4 1406.5,826.3 1414.5,826.8" fill="none" stroke="#1e90ff" stroke-width="1" shape-rendering="crispEdges"/>
<rect x="1119.5" y="39.5" width="61.0" height="18.0" fill="#fff" stroke="#ff0000" stroke-width="1" shape-rendering="crispEdges"/>
<text x="1121.5" y="55.2" textLength="57.5" lengthAdjust="spacingAndGlyphs" style="font-family:'Liberation Sans',sans-serif;font-size:17px" fill="#ff0000">110.956</text>
<rect x="1181" y="48" width="9" height="1" fill="#ff0000" shape-rendering="crispEdges"/>
<rect x="1063.5" y="196.5" width="61.0" height="18.0" fill="#fff" stroke="#ff0000" stroke-width="1" shape-rendering="crispEdges"/>
<text x="1065.5" y="211.9" textLength="57.0" lengthAdjust="spacingAndGlyphs" style="font-family:'Liberation Sans',sans-serif;font-size:17px" fill="#ff0000">108.393</text>
<rect x="1125" y="205" width="10" height="1" fill="#ff0000" shape-rendering="crispEdges"/>
<rect x="1151.5" y="155.5" width="61.0" height="18.0" fill="#fff" stroke="#ff0000" stroke-width="1" shape-rendering="crispEdges"/>
<text x="1153.5" y="171.4" textLength="57.5" lengthAdjust="spacingAndGlyphs" style="font-family:'Liberation Sans',sans-serif;font-size:17px" fill="#ff0000">109.062</text>
<rect x="1213" y="164" width="10" height="1" fill="#ff0000" shape-rendering="crispEdges"/>
<rect x="1271.5" y="253.5" width="61.0" height="18.0" fill="#fff" stroke="#ff0000" stroke-width="1" shape-rendering="crispEdges"/>
<text x="1273.5" y="269.0" textLength="57.0" lengthAdjust="spacingAndGlyphs" style="font-family:'Liberation Sans',sans-serif;font-size:17px" fill="#ff0000">107.463</text>
<rect x="1333" y="262" width="10" height="1" fill="#ff0000" shape-rendering="crispEdges"/>
<g shape-rendering="crispEdges">
<rect x="-2" y="370" width="1" height="6" fill="#000"/>
<rect x="-4" y="370" width="5" height="6" fill="#000"/>
<rect x="6" y="345" width="1" height="31" fill="#000"/>
<rect x="4.5" y="354.5" width="4" height="21" fill="#fff" stroke="#000" stroke-width="1"/>
<rect x="14" y="345" width="1" height="13" fill="#000"/>
<rect x="12.5" y="350.5" width="4" height="5" fill="#fff" stroke="#000" stroke-width="1"/>
<rect x="22" y="350" width="1" height="27" fill="#000"/>
<rect x="20" y="350" width="5" height="27" fill="#000"/>
<rect x="30" y="373" width="1" height="5" fill="#000"/>
<rect x="28" y="374" width="5" height="3" fill="#000"/>
<rect x="38" y="373" width="1" height="26" fill="#000"/>
<rect x="36" y="375" width="5" height="18" fill="#000"/>
<rect x="46" y="376" width="1" height="21" fill="#000"/>
<rect x="44.5" y="384.5" width="4" height="8" fill="#fff" stroke="#000" stroke-width="1"/>
<rect x="54" y="382" width="1" height="30" fill="#000"/>
<rect x="52" y="384" width="5" height="21" fill="#000"/>
<rect x="62" y="383" width="1" height="25" fill="#000"/>
<rect x="60.5" y="391.5" width="4" height="15" fill="#fff" stroke="#000" stroke-width="1"/>
<rect x="70" y="386" width="1" height="16" fill="#000"/>
<rect x="68.5" y="389.5" width="4" height="2" fill="#fff" stroke="#000" stroke-width="1"/>
<rect x="78" y="386" width="1" height="5" fill="#000"/>
<rect x="76" y="387" width="5" height="3" fill="#000"/>
<rect x="86" y="382" width="1" height="14" fill="#000"/>
<rect x="84.5" y="385.5" width="4" height="3" fill="#fff" stroke="#000" stroke-width="1"/>
<rect x="94" y="367" width="1" height="22" fill="#000"/>
<rect x="92" y="384" width="5" height="3" fill="#000"/>
<rect x="102" y="384" width="1" height="70" fill="#000"/>
<rect x="100" y="384" width="5" height="50" fill="#000"/>
<rect x="110" y="417" width="1" height="29" fill="#000"/>
<rect x="108.5" y="419.5" width="4" height="15" fill="#fff" stroke="#000" stroke-width="1"/>
<rect x="118" y="418" width="1" height="25" fill="#000"/>
<rect x="116" y="419" width="5" height="12" fill="#000"/>
<rect x="126" y="428" width="1" height="6" fill="#000"/>
<rect x="124" y="432" width="5" height="2" fill="#000"/>
<rect x="134" y="410" width="1" height="26" fill="#000"/>
<rect x="132.5" y="423.5" width="4" height="9" fill="#fff" stroke="#000" stroke-width="1"/>
<rect x="142" y="423" width="1" height="30" fill="#000"/>
<rect x="140" y="423" width="5" height="20" fill="#000"/>
<rect x="150" y="440" width="1" height="28" fill="#000"/>
<rect x="148" y="441" width="5" height="16" fill="#000"/>
<rect x="158" y="430" width="1" height="45" fill="#000"/>
<rect x="156.5" y="440.5" width="4" height="16" fill="#fff" stroke="#000" stroke-width="1"/>
<rect x="166" y="429" width="1" height="39" fill="#000"/>
<rect x="164.5" y="432.5" width="4" height="8" fill="#fff" stroke="#000" stroke-width="1"/>
<rect x="174" y="432" width="1" height="9" fill="#000"/>
<rect x="172" y="436" width="5" height="5" fill="#000"/>
<rect x="182" y="416" width="1" height="24" fill="#000"/>
<rect x="180.5" y="430.5" width="4" height="8" fill="#fff" stroke="#000" stroke-width="1"/>
<rect x="190" y="424" width="1" height="27" fill="#000"/>
<rect x="188" y="430" width="5" height="13" fill="#000"/>
<rect x="198" y="392" width="1" height="75" fill="#000"/>
<rect x="196" y="441" width="5" height="8" fill="#000"/>
<rect x="206" y="445" width="1" height="64" fill="#000"/>
<rect x="204" y="449" width="5" height="51" fill="#000"/>
<rect x="214" y="489" width="1" height="38" fill="#000"/>
<rect x="212" y="499" width="5" height="24" fill="#000"/>
<rect x="222" y="517" width="1" height="6" fill="#000"/>
<rect x="220" y="519" width="5" height="2" fill="#000"/>
<rect x="230" y="374" width="1" height="148" fill="#000"/>
<rect x="228.5" y="406.5" width="4" height="115" fill="#fff" stroke="#000" stroke-width="1"/>
<rect x="238" y="383" width="1" height="42" fill="#000"/>
<rect x="236.5" y="397.5" width="4" height="9" fill="#fff" stroke="#000" stroke-width="1"/>
<rect x="246" y="372" width="1" height="43" fill="#000"/>
<rect x="244.5" y="388.5" width="4" height="9" fill="#fff" stroke="#000" stroke-width="1"/>
<rect x="254" y="384" width="1" height="27" fill="#000"/>
<rect x="252" y="388" width="5" height="21" fill="#000"/>
<rect x="262" y="404" width="1" height="38" fill="#000"/>
<rect x="260" y="406" width="5" height="31" fill="#000"/>
<rect x="270" y="432" width="1" height="7" fill="#000"/>
<rect x="268.5" y="433.5" width="4" height="3" fill="#fff" stroke="#000" stroke-width="1"/>
<rect x="278" y="405" width="1" height="48" fill="#000"/>
<rect x="276" y="433" width="5" height="10" fill="#000"/>
<rect x="286" y="440" width="1" height="32" fill="#000"/>
<rect x="284" y="442" width="5" height="23" fill="#000"/>
<rect x="294" y="464" width="1" height="33" fill="#000"/>
<rect x="292" y="464" width="5" height="19" fill="#000"/>
<rect x="302" y="461" width="1" height="33" fill="#000"/>
<rect x="300" y="480" width="5" height="8" fill="#000"/>
<rect x="310" y="480" width="1" height="14" fill="#000"/>
<rect x="308" y="486" width="5" height="1" fill="#000"/>
<rect x="318" y="483" width="1" height="5" fill="#000"/>
<rect x="316" y="485" width="5" height="2" fill="#000"/>
<rect x="326" y="435" width="1" height="60" fill="#000"/>
<rect x="324.5" y="442.5" width="4" height="44" fill="#fff" stroke="#000" stroke-width="1"/>
<rect x="334" y="428" width="1" height="39" fill="#000"/>
<rect x="332" y="442" width="5" height="2" fill="#000"/>
<rect x="342" y="438" width="1" height="21" fill="#000"/>
<rect x="340" y="443" width="5" height="9" fill="#000"/>
<rect x="350" y="450" width="1" height="13" fill="#000"/>
<rect x="348" y="450" width="5" height="11" fill="#000"/>
<rect x="358" y="458" width="1" height="23" fill="#000"/>
<rect x="356" y="458" width="5" height="16" fill="#000"/>
<rect x="366" y="464" width="1" height="10" fill="#000"/>
<rect x="364.5" y="469.5" width="4" height="4" fill="#fff" stroke="#000" stroke-width="1"/>
<rect x="374" y="449" width="1" height="37" fill="#000"/>
<rect x="372.5" y="456.5" width="4" height="13" fill="#fff" stroke="#000" stroke-width="1"/>
<rect x="382" y="439" width="1" height="26" fill="#000"/>
<rect x="380" y="456" width="5" height="2" fill="#000"/>
<rect x="390" y="428" width="1" height="33" fill="#000"/>
<rect x="388.5" y="447.5" width="4" height="9" fill="#fff" stroke="#000" stroke-width="1"/>
<rect x="398" y="442" width="1" height="53" fill="#000"/>
<rect x="396" y="447" width="5" height="38" fill="#000"/>
<rect x="406" y="459" width="1" height="33" fill="#000"/>
<rect x="404.5" y="468.5" width="4" height="16" fill="#fff" stroke="#000" stroke-width="1"/>
<rect x="414" y="459" width="1" height="6" fill="#000"/>
<rect x="412" y="462" width="5" height="2" fill="#000"/>
<rect x="422" y="455" width="1" height="26" fill="#000"/>
<rect x="420" y="462" width="5" height="14" fill="#000"/>
<rect x="430" y="462" width="1" height="17" fill="#000"/>
<rect x="428.5" y="466.5" width="4" height="7" fill="#fff" stroke="#000" stroke-width="1"/>
<rect x="438" y="449" width="1" height="23" fill="#000"/>
<rect x="436.5" y="457.5" width="4" height="10" fill="#fff" stroke="#000" stroke-width="1"/>
<rect x="446" y="439" width="1" height="27" fill="#000"/>
<rect x="444" y="457" width="5" height="8" fill="#000"/>
<rect x="454" y="464" width="1" height="22" fill="#000"/>
<rect x="452" y="464" width="5" height="12" fill="#000"/>
<rect x="462" y="474" width="1" height="8" fill="#000"/>
<rect x="460.5" y="476.5" width="4" height="4" fill="#fff" stroke="#000" stroke-width="1"/>
<rect x="470" y="468" width="1" height="38" fill="#000"/>
<rect x="468.5" y="474.5" width="4" height="3" fill="#fff" stroke="#000" stroke-width="1"/>
<rect x="478" y="465" width="1" height="34" fill="#000"/>
<rect x="476" y="474" width="5" height="24" fill="#000"/>
<rect x="486" y="479" width="1" height="42" fill="#000"/>
<rect x="484" y="496" width="5" height="11" fill="#000"/>
<rect x="494" y="501" width="1" height="43" fill="#000"/>
<rect x="492" y="506" width="5" height="21" fill="#000"/>
<rect x="502" y="499" width="1" height="31" fill="#000"/>
<rect x="500.5" y="517.5" width="4" height="9" fill="#fff" stroke="#000" stroke-width="1"/>
<rect x="510" y="505" width="1" height="11" fill="#000"/>
<rect x="508.5" y="506.5" width="4" height="8" fill="#fff" stroke="#000" stroke-width="1"/>
<rect x="518" y="481" width="1" height="41" fill="#000"/>
<rect x="516" y="506" width="5" height="10" fill="#000"/>
<rect x="526" y="491" width="1" height="29" fill="#000"/>
<rect x="524.5" y="504.5" width="4" height="11" fill="#fff" stroke="#000" stroke-width="1"/>
<rect x="534" y="496" width="1" height="19" fill="#000"/>
<rect x="532" y="503" width="5" height="2" fill="#000"/>
<rect x="542" y="488" width="1" height="23" fill="#000"/>
<rect x="540" y="503" width="5" height="2" fill="#000"/>
<rect x="550" y="499" width="1" height="8" fill="#000"/>
<rect x="548" y="502" width="5" height="2" fill="#000"/>
<rect x="558" y="480" width="1" height="33" fill="#000"/>
<rect x="556.5" y="493.5" width="4" height="12" fill="#fff" stroke="#000" stroke-width="1"/>
<rect x="566" y="486" width="1" height="23" fill="#000"/>
<rect x="564" y="493" width="5" height="10" fill="#000"/>
<rect x="574" y="500" width="1" height="39" fill="#000"/>
<rect x="572" y="501" width="5" height="29" fill="#000"/>
<rect x="582" y="516" width="1" height="22" fill="#000"/>
<rect x="580.5" y="522.5" width="4" height="7" fill="#fff" stroke="#000" stroke-width="1"/>
<rect x="590" y="516" width="1" height="9" fill="#000"/>
<rect x="588.5" y="520.5" width="4" height="3" fill="#fff" stroke="#000" stroke-width="1"/>
<rect x="598" y="519" width="1" height="36" fill="#000"/>
<rect x="596" y="520" width="5" height="9" fill="#000"/>
<rect x="606" y="525" width="1" height="37" fill="#000"/>
<rect x="604" y="527" width="5" height="30" fill="#000"/>
<rect x="614" y="508" width="1" height="54" fill="#000"/>
<rect x="612.5" y="535.5" width="4" height="19" fill="#fff" stroke="#000" stroke-width="1"/>
<rect x="622" y="477" width="1" height="62" fill="#000"/>
<rect x="620.5" y="486.5" width="4" height="49" fill="#fff" stroke="#000" stroke-width="1"/>
<rect x="630" y="469" width="1" height="31" fill="#000"/>
<rect x="628.5" y="480.5" width="4" height="6" fill="#fff" stroke="#000" stroke-width="1"/>
<rect x="638" y="469" width="1" height="13" fill="#000"/>
<rect x="636.5" y="469.5" width="4" height="12" fill="#fff" stroke="#000" stroke-width="1"/>
<rect x="646" y="450" width="1" height="24" fill="#000"/>
<rect x="644.5" y="466.5" width="4" height="4" fill="#fff" stroke="#000" stroke-width="1"/>
<rect x="654" y="454" width="1" height="38" fill="#000"/>
<rect x="652" y="466" width="5" height="26" fill="#000"/>
<rect x="662" y="475" width="1" height="30" fill="#000"/>
<rect x="660.5" y="485.5" width="4" height="6" fill="#fff" stroke="#000" stroke-width="1"/>
<rect x="670" y="462" width="1" height="41" fill="#000"/>
<rect x="668" y="484" width="5" height="2" fill="#000"/>
<rect x="678" y="481" width="1" height="19" fill="#000"/>
<rect x="676" y="483" width="5" height="2" fill="#000"/>
<rect x="686" y="479" width="1" height="8" fill="#000"/>
<rect x="684.5" y="479.5" width="4" height="7" fill="#fff" stroke="#000" stroke-width="1"/>
<rect x="694" y="478" width="1" height="20" fill="#000"/>
<rect x="692" y="480" width="5" height="14" fill="#000"/>
<rect x="702" y="469" width="1" height="29" fill="#000"/>
<rect x="700.5" y="480.5" width="4" height="13" fill="#fff" stroke="#000" stroke-width="1"/>
<rect x="710" y="479" width="1" height="31" fill="#000"/>
<rect x="708" y="480" width="5" height="23" fill="#000"/>
<rect x="718" y="495" width="1" height="22" fill="#000"/>
<rect x="716" y="502" width="5" height="3" fill="#000"/>
<rect x="726" y="481" width="1" height="26" fill="#000"/>
<rect x="724.5" y="484.5" width="4" height="20" fill="#fff" stroke="#000" stroke-width="1"/>
<rect x="734" y="485" width="1" height="5" fill="#000"/>
<rect x="732" y="486" width="5" height="3" fill="#000"/>
<rect x="742" y="478" width="1" height="18" fill="#000"/>
<rect x="740" y="487" width="5" height="4" fill="#000"/>
<rect x="750" y="485" width="1" height="18" fill="#000"/>
<rect x="748" y="489" width="5" height="12" fill="#000"/>
<rect x="758" y="462" width="1" height="39" fill="#000"/>
<rect x="756.5" y="466.5" width="4" height="33" fill="#fff" stroke="#000" stroke-width="1"/>
<rect x="766" y="446" width="1" height="22" fill="#000"/>
<rect x="764.5" y="456.5" width="4" height="10" fill="#fff" stroke="#000" stroke-width="1"/>
<rect x="774" y="417" width="1" height="42" fill="#000"/>
<rect x="772.5" y="429.5" width="4" height="28" fill="#fff" stroke="#000" stroke-width="1"/>
<rect x="782" y="426" width="1" height="9" fill="#000"/>
<rect x="780" y="426" width="5" height="6" fill="#000"/>
<rect x="790" y="411" width="1" height="28" fill="#000"/>
<rect x="788.5" y="420.5" width="4" height="11" fill="#fff" stroke="#000" stroke-width="1"/>
<rect x="798" y="403" width="1" height="23" fill="#000"/>
<rect x="796.5" y="411.5" width="4" height="10" fill="#fff" stroke="#000" stroke-width="1"/>
<rect x="806" y="407" width="1" height="13" fill="#000"/>
<rect x="804" y="412" width="5" height="2" fill="#000"/>
<rect x="814" y="376" width="1" height="41" fill="#000"/>
<rect x="812.5" y="378.5" width="4" height="36" fill="#fff" stroke="#000" stroke-width="1"/>
<rect x="822" y="366" width="1" height="29" fill="#000"/>
<rect x="820" y="378" width="5" height="9" fill="#000"/>
<rect x="830" y="386" width="1" height="6" fill="#000"/>
<rect x="828" y="389" width="5" height="2" fill="#000"/>
<rect x="838" y="372" width="1" height="33" fill="#000"/>
<rect x="836" y="389" width="5" height="13" fill="#000"/>
<rect x="846" y="399" width="1" height="47" fill="#000"/>
<rect x="844" y="400" width="5" height="41" fill="#000"/>
<rect x="854" y="423" width="1" height="28" fill="#000"/>
<rect x="852.5" y="436.5" width="4" height="3" fill="#fff" stroke="#000" stroke-width="1"/>
<rect x="862" y="425" width="1" height="18" fill="#000"/>
<rect x="860.5" y="428.5" width="4" height="9" fill="#fff" stroke="#000" stroke-width="1"/>
<rect x="870" y="402" width="1" height="29" fill="#000"/>
<rect x="868.5" y="415.5" width="4" height="14" fill="#fff" stroke="#000" stroke-width="1"/>
<rect x="878" y="408" width="1" height="10" fill="#000"/>
<rect x="876.5" y="409.5" width="4" height="8" fill="#fff" stroke="#000" stroke-width="1"/>
<rect x="886" y="388" width="1" height="28" fill="#000"/>
<rect x="884.5" y="390.5" width="4" height="19" fill="#fff" stroke="#000" stroke-width="1"/>
<rect x="894" y="338" width="1" height="66" fill="#000"/>
<rect x="892.5" y="345.5" width="4" height="45" fill="#fff" stroke="#000" stroke-width="1"/>
<rect x="902" y="339" width="1" height="28" fill="#000"/>
<rect x="900" y="345" width="5" height="17" fill="#000"/>
<rect x="910" y="357" width="1" height="22" fill="#000"/>
<rect x="908" y="361" width="5" height="14" fill="#000"/>
<rect x="918" y="368" width="1" height="31" fill="#000"/>
<rect x="916" y="373" width="5" height="11" fill="#000"/>
<rect x="926" y="375" width="1" height="9" fill="#000"/>
<rect x="924.5" y="380.5" width="4" height="3" fill="#fff" stroke="#000" stroke-width="1"/>
<rect x="934" y="361" width="1" height="59" fill="#000"/>
<rect x="932" y="380" width="5" height="35" fill="#000"/>
<rect x="942" y="387" width="1" height="33" fill="#000"/>
<rect x="940.5" y="395.5" width="4" height="19" fill="#fff" stroke="#000" stroke-width="1"/>
<rect x="950" y="346" width="1" height="53" fill="#000"/>
<rect x="948.5" y="355.5" width="4" height="40" fill="#fff" stroke="#000" stroke-width="1"/>
<rect x="958" y="327" width="1" height="35" fill="#000"/>
<rect x="956.5" y="328.5" width="4" height="26" fill="#fff" stroke="#000" stroke-width="1"/>
<rect x="966" y="309" width="1" height="53" fill="#000"/>
<rect x="964.5" y="314.5" width="4" height="14" fill="#fff" stroke="#000" stroke-width="1"/>
<rect x="974" y="316" width="1" height="8" fill="#000"/>
<rect x="972" y="320" width="5" height="4" fill="#000"/>
<rect x="982" y="298" width="1" height="34" fill="#000"/>
<rect x="980.5" y="300.5" width="4" height="24" fill="#fff" stroke="#000" stroke-width="1"/>
<rect x="990" y="293" width="1" height="18" fill="#000"/>
<rect x="988" y="300" width="5" height="7" fill="#000"/>
<rect x="998" y="281" width="1" height="29" fill="#000"/>
<rect x="996.5" y="287.5" width="4" height="19" fill="#fff" stroke="#000" stroke-width="1"/>
<rect x="1006" y="229" width="1" height="65" fill="#000"/>
<rect x="1004.5" y="233.5" width="4" height="55" fill="#fff" stroke="#000" stroke-width="1"/>
<rect x="1014" y="190" width="1" height="52" fill="#000"/>
<rect x="1012.5" y="209.5" width="4" height="25" fill="#fff" stroke="#000" stroke-width="1"/>
<rect x="1022" y="201" width="1" height="9" fill="#000"/>
<rect x="1020.5" y="206.5" width="4" height="2" fill="#fff" stroke="#000" stroke-width="1"/>
<rect x="1030" y="171" width="1" height="42" fill="#000"/>
<rect x="1028.5" y="173.5" width="4" height="32" fill="#fff" stroke="#000" stroke-width="1"/>
<rect x="1038" y="154" width="1" height="52" fill="#000"/>
<rect x="1036" y="173" width="5" height="23" fill="#000"/>
<rect x="1046" y="173" width="1" height="37" fill="#000"/>
<rect x="1044" y="195" width="5" height="9" fill="#000"/>
<rect x="1054" y="180" width="1" height="29" fill="#000"/>
<rect x="1052.5" y="196.5" width="4" height="6" fill="#fff" stroke="#000" stroke-width="1"/>
<rect x="1062" y="158" width="1" height="40" fill="#000"/>
<rect x="1060.5" y="164.5" width="4" height="32" fill="#fff" stroke="#000" stroke-width="1"/>
<rect x="1070" y="160" width="1" height="5" fill="#000"/>
<rect x="1068.5" y="161.5" width="4" height="3" fill="#fff" stroke="#000" stroke-width="1"/>
<rect x="1078" y="147" width="1" height="28" fill="#000"/>
<rect x="1076" y="162" width="5" height="1" fill="#000"/>
<rect x="1086" y="151" width="1" height="33" fill="#000"/>
<rect x="1084" y="161" width="5" height="7" fill="#000"/>
<rect x="1094" y="149" width="1" height="40" fill="#000"/>
<rect x="1092" y="167" width="5" height="10" fill="#000"/>
<rect x="1102" y="151" width="1" height="41" fill="#000"/>
<rect x="1100" y="173" width="5" height="3" fill="#000"/>
<rect x="1110" y="161" width="1" height="32" fill="#000"/>
<rect x="1108" y="172" width="5" height="6" fill="#000"/>
<rect x="1118" y="174" width="1" height="5" fill="#000"/>
<rect x="1116" y="175" width="5" height="3" fill="#000"/>
<rect x="1126" y="171" width="1" height="22" fill="#000"/>
<rect x="1124" y="176" width="5" height="8" fill="#000"/>
<rect x="1134" y="176" width="1" height="29" fill="#000"/>
<rect x="1132" y="183" width="5" height="16" fill="#000"/>
<rect x="1142" y="171" width="1" height="33" fill="#000"/>
<rect x="1140.5" y="182.5" width="4" height="15" fill="#fff" stroke="#000" stroke-width="1"/>
<rect x="1150" y="154" width="1" height="29" fill="#000"/>
<rect x="1148.5" y="158.5" width="4" height="23" fill="#fff" stroke="#000" stroke-width="1"/>
<rect x="1158" y="117" width="1" height="45" fill="#000"/>
<rect x="1156.5" y="128.5" width="4" height="30" fill="#fff" stroke="#000" stroke-width="1"/>
<rect x="1166" y="119" width="1" height="5" fill="#000"/>
<rect x="1164.5" y="120.5" width="4" height="2" fill="#fff" stroke="#000" stroke-width="1"/>
<rect x="1174" y="114" width="1" height="34" fill="#000"/>
<rect x="1172.5" y="118.5" width="4" height="3" fill="#fff" stroke="#000" stroke-width="1"/>
<rect x="1182" y="81" width="1" height="41" fill="#000"/>
<rect x="1180.5" y="89.5" width="4" height="29" fill="#fff" stroke="#000" stroke-width="1"/>
<rect x="1190" y="48" width="1" height="44" fill="#000"/>
<rect x="1188.5" y="61.5" width="4" height="28" fill="#fff" stroke="#000" stroke-width="1"/>
<rect x="1198" y="56" width="1" height="20" fill="#000"/>
<rect x="1196" y="61" width="5" height="12" fill="#000"/>
<rect x="1206" y="62" width="1" height="7" fill="#000"/>
<rect x="1204" y="64" width="5" height="4" fill="#000"/>
<rect x="1214" y="64" width="1" height="47" fill="#000"/>
<rect x="1212" y="65" width="5" height="32" fill="#000"/>
<rect x="1222" y="74" width="1" height="56" fill="#000"/>
<rect x="1220" y="96" width="5" height="26" fill="#000"/>
<rect x="1230" y="112" width="1" height="23" fill="#000"/>
<rect x="1228.5" y="116.5" width="4" height="5" fill="#fff" stroke="#000" stroke-width="1"/>
<rect x="1238" y="113" width="1" height="58" fill="#000"/>
<rect x="1236" y="116" width="5" height="33" fill="#000"/>
<rect x="1246" y="110" width="1" height="47" fill="#000"/>
<rect x="1244.5" y="116.5" width="4" height="32" fill="#fff" stroke="#000" stroke-width="1"/>
<rect x="1254" y="122" width="1" height="6" fill="#000"/>
<rect x="1252" y="122" width="5" height="4" fill="#000"/>
<rect x="1262" y="121" width="1" height="34" fill="#000"/>
<rect x="1260" y="124" width="5" height="23" fill="#000"/>
<rect x="1270" y="122" width="1" height="55" fill="#000"/>
<rect x="1268" y="145" width="5" height="30" fill="#000"/>
<rect x="1278" y="164" width="1" height="22" fill="#000"/>
<rect x="1276" y="173" width="5" height="3" fill="#000"/>
<rect x="1286" y="172" width="1" height="22" fill="#000"/>
<rect x="1284" y="175" width="5" height="14" fill="#000"/>
<rect x="1294" y="171" width="1" height="19" fill="#000"/>
<rect x="1292.5" y="182.5" width="4" height="6" fill="#fff" stroke="#000" stroke-width="1"/>
<rect x="1302" y="182" width="1" height="9" fill="#000"/>
<rect x="1300" y="182" width="5" height="5" fill="#000"/>
<rect x="1310" y="183" width="1" height="48" fill="#000"/>
<rect x="1308" y="185" width="5" height="40" fill="#000"/>
<rect x="1318" y="196" width="1" height="37" fill="#000"/>
<rect x="1316.5" y="221.5" width="4" height="2" fill="#fff" stroke="#000" stroke-width="1"/>
<rect x="1326" y="212" width="1" height="27" fill="#000"/>
<rect x="1324" y="222" width="5" height="7" fill="#000"/>
<rect x="1334" y="215" width="1" height="28" fill="#000"/>
<rect x="1332" y="227" width="5" height="5" fill="#000"/>
<rect x="1342" y="221" width="1" height="33" fill="#000"/>
<rect x="1340" y="230" width="5" height="6" fill="#000"/>
<rect x="1350" y="236" width="1" height="4" fill="#000"/>
<rect x="1348" y="236" width="5" height="3" fill="#000"/>
<rect x="1358" y="217" width="1" height="36" fill="#000"/>
<rect x="1356.5" y="217.5" width="4" height="19" fill="#fff" stroke="#000" stroke-width="1"/>
<rect x="1366" y="182" width="1" height="44" fill="#000"/>
<rect x="1364.5" y="184.5" width="4" height="34" fill="#fff" stroke="#000" stroke-width="1"/>
<rect x="1374" y="168" width="1" height="33" fill="#000"/>
<rect x="1372" y="184" width="5" height="17" fill="#000"/>
<rect x="1382" y="155" width="1" height="46" fill="#000"/>
<rect x="1380.5" y="174.5" width="4" height="26" fill="#fff" stroke="#000" stroke-width="1"/>
<rect x="1390" y="148" width="1" height="35" fill="#000"/>
<rect x="1388.5" y="150.5" width="4" height="24" fill="#fff" stroke="#000" stroke-width="1"/>
<rect x="1398" y="149" width="1" height="4" fill="#000"/>
<rect x="1396" y="149" width="5" height="4" fill="#000"/>
<rect x="1406" y="126" width="1" height="51" fill="#000"/>
<rect x="1404" y="151" width="5" height="13" fill="#000"/>
<rect x="1414" y="145" width="1" height="19" fill="#000"/>
<rect x="1412.5" y="151.5" width="4" height="12" fill="#fff" stroke="#000" stroke-width="1"/>
</g>
<rect x="1307" y="164" width="158" height="4" fill="#00ff00"/>
<line x1="1195.0" y1="60.0" x2="1341.6" y2="255.8" stroke="#ff0000" stroke-width="3.4"/>
<polygon points="1347.0,263.0 1336.4,257.2 1344.4,251.2" fill="#ff0000"/>
<line x1="1347.0" y1="262.0" x2="1417.5" y2="138.8" stroke="#ff0000" stroke-width="3.4"/>
<polygon points="1422.0,131.0 1420.9,143.0 1412.2,138.1" fill="#ff0000"/>
<line x1="1352.0" y1="720.5" x2="1406.6" y2="690.8" stroke="#ff0000" stroke-width="3.4"/>
<polygon points="1414.5,686.5 1407.2,696.1 1402.4,687.4" fill="#ff0000"/>
<line x1="1341.5" y1="862.7" x2="1410.2" y2="822.7" stroke="#ff0000" stroke-width="3.4"/>
<polygon points="1418.0,818.2 1411.0,828.1 1406.0,819.4" fill="#ff0000"/>

<g shape-rendering="crispEdges">
<rect x="1686" y="43" width="2" height="1" fill="#000"/>
<rect x="1686" y="76" width="2" height="1" fill="#000"/>
<rect x="1686" y="109" width="2" height="1" fill="#000"/>
<rect x="1686" y="142" width="2" height="1" fill="#000"/>
<rect x="1686" y="175" width="2" height="1" fill="#000"/>
<rect x="1686" y="208" width="2" height="1" fill="#000"/>
<rect x="1686" y="241" width="2" height="1" fill="#000"/>
<rect x="1686" y="274" width="2" height="1" fill="#000"/>
<rect x="1686" y="307" width="2" height="1" fill="#000"/>
<rect x="1686" y="340" width="2" height="1" fill="#000"/>
<rect x="1686" y="373" width="2" height="1" fill="#000"/>
<rect x="1686" y="406" width="2" height="1" fill="#000"/>
<rect x="1686" y="439" width="2" height="1" fill="#000"/>
<rect x="1686" y="472" width="2" height="1" fill="#000"/>
<rect x="1686" y="505" width="2" height="1" fill="#000"/>
<rect x="1686" y="538" width="2" height="1" fill="#000"/>
<rect x="1686" y="571" width="2" height="1" fill="#000"/>
</g>
<text x="1691.5" y="47.2" textLength="32.3" lengthAdjust="spacingAndGlyphs" font-family="'Liberation Sans',sans-serif" font-size="10" font-weight="normal" fill="#000">111.040</text>
<text x="1691.5" y="80.2" textLength="32.3" lengthAdjust="spacingAndGlyphs" font-family="'Liberation Sans',sans-serif" font-size="10" font-weight="normal" fill="#000">110.500</text>
<text x="1691.5" y="113.2" textLength="32.3" lengthAdjust="spacingAndGlyphs" font-family="'Liberation Sans',sans-serif" font-size="10" font-weight="normal" fill="#000">109.960</text>
<text x="1691.5" y="146.2" textLength="32.3" lengthAdjust="spacingAndGlyphs" font-family="'Liberation Sans',sans-serif" font-size="10" font-weight="normal" fill="#000">109.420</text>
<text x="1691.5" y="179.2" textLength="32.3" lengthAdjust="spacingAndGlyphs" font-family="'Liberation Sans',sans-serif" font-size="10" font-weight="normal" fill="#000">108.880</text>
<text x="1691.5" y="212.2" textLength="32.3" lengthAdjust="spacingAndGlyphs" font-family="'Liberation Sans',sans-serif" font-size="10" font-weight="normal" fill="#000">108.340</text>
<text x="1691.5" y="245.2" textLength="32.3" lengthAdjust="spacingAndGlyphs" font-family="'Liberation Sans',sans-serif" font-size="10" font-weight="normal" fill="#000">107.800</text>
<text x="1691.5" y="278.2" textLength="32.3" lengthAdjust="spacingAndGlyphs" font-family="'Liberation Sans',sans-serif" font-size="10" font-weight="normal" fill="#000">107.260</text>
<text x="1691.5" y="311.2" textLength="32.3" lengthAdjust="spacingAndGlyphs" font-family="'Liberation Sans',sans-serif" font-size="10" font-weight="normal" fill="#000">106.720</text>
<text x="1691.5" y="344.2" textLength="32.3" lengthAdjust="spacingAndGlyphs" font-family="'Liberation Sans',sans-serif" font-size="10" font-weight="normal" fill="#000">106.195</text>
<text x="1691.5" y="377.2" textLength="32.3" lengthAdjust="spacingAndGlyphs" font-family="'Liberation Sans',sans-serif" font-size="10" font-weight="normal" fill="#000">105.655</text>
<text x="1691.5" y="410.2" textLength="32.3" lengthAdjust="spacingAndGlyphs" font-family="'Liberation Sans',sans-serif" font-size="10" font-weight="normal" fill="#000">105.115</text>
<text x="1691.5" y="443.2" textLength="32.3" lengthAdjust="spacingAndGlyphs" font-family="'Liberation Sans',sans-serif" font-size="10" font-weight="normal" fill="#000">104.575</text>
<text x="1691.5" y="476.2" textLength="32.3" lengthAdjust="spacingAndGlyphs" font-family="'Liberation Sans',sans-serif" font-size="10" font-weight="normal" fill="#000">104.035</text>
<text x="1691.5" y="509.2" textLength="32.3" lengthAdjust="spacingAndGlyphs" font-family="'Liberation Sans',sans-serif" font-size="10" font-weight="normal" fill="#000">103.495</text>
<text x="1691.5" y="542.2" textLength="32.3" lengthAdjust="spacingAndGlyphs" font-family="'Liberation Sans',sans-serif" font-size="10" font-weight="normal" fill="#000">102.955</text>
<text x="1691.5" y="575.2" textLength="32.3" lengthAdjust="spacingAndGlyphs" font-family="'Liberation Sans',sans-serif" font-size="10" font-weight="normal" fill="#000">102.415</text>
<rect x="1687" y="104" width="41" height="11" fill="#ff0000" shape-rendering="crispEdges"/>
<rect x="1686" y="110" width="2" height="1" fill="#000" shape-rendering="crispEdges"/>
<text x="1691.5" y="113.2" textLength="32.3" lengthAdjust="spacingAndGlyphs" font-family="'Liberation Sans',sans-serif" font-size="10" font-weight="normal" fill="#fff">109.944</text>
<rect x="1687" y="133" width="41" height="11" fill="#ff0000" shape-rendering="crispEdges"/>
<rect x="1686" y="139" width="2" height="1" fill="#000" shape-rendering="crispEdges"/>
<text x="1691.5" y="142.2" textLength="32.3" lengthAdjust="spacingAndGlyphs" font-family="'Liberation Sans',sans-serif" font-size="10" font-weight="normal" fill="#fff">109.470</text>
<rect x="1687" y="146" width="41" height="11" fill="#000000" shape-rendering="crispEdges"/>
<rect x="1686" y="151" width="2" height="1" fill="#000" shape-rendering="crispEdges"/>
<text x="1691.5" y="155.2" textLength="32.3" lengthAdjust="spacingAndGlyphs" font-family="'Liberation Sans',sans-serif" font-size="10" font-weight="normal" fill="#fff">109.284</text>
<rect x="1687" y="158" width="41" height="11" fill="#20c8c8" shape-rendering="crispEdges"/>
<rect x="1686" y="164" width="2" height="1" fill="#000" shape-rendering="crispEdges"/>
<text x="1691.5" y="167.2" textLength="32.3" lengthAdjust="spacingAndGlyphs" font-family="'Liberation Sans',sans-serif" font-size="10" font-weight="normal" fill="#fff">109.062</text>
<rect x="1687" y="180" width="41" height="11" fill="#0000ff" shape-rendering="crispEdges"/>
<rect x="1686" y="186" width="2" height="1" fill="#000" shape-rendering="crispEdges"/>
<text x="1691.5" y="189.2" textLength="32.3" lengthAdjust="spacingAndGlyphs" font-family="'Liberation Sans',sans-serif" font-size="10" font-weight="normal" fill="#fff">108.703</text>
<rect x="1687" y="199" width="41" height="11" fill="#0000ff" shape-rendering="crispEdges"/>
<rect x="1686" y="205" width="2" height="1" fill="#000" shape-rendering="crispEdges"/>
<text x="1691.5" y="208.2" textLength="32.3" lengthAdjust="spacingAndGlyphs" font-family="'Liberation Sans',sans-serif" font-size="10" font-weight="normal" fill="#fff">108.393</text>
<rect x="1686" y="578" width="2" height="1" fill="#000" shape-rendering="crispEdges"/>
<rect x="1686" y="690" width="2" height="1" fill="#000" shape-rendering="crispEdges"/>
<rect x="1686" y="745" width="2" height="1" fill="#000" shape-rendering="crispEdges"/>
<text x="1690.0" y="587.2" textLength="26.8" lengthAdjust="spacingAndGlyphs" font-family="'Liberation Sans',sans-serif" font-size="10" font-weight="normal" fill="#000">1.0779</text>
<text x="1689.0" y="694.2" textLength="17.8" lengthAdjust="spacingAndGlyphs" font-family="'Liberation Sans',sans-serif" font-size="10" font-weight="normal" fill="#000">0.00</text>
<text x="1689.0" y="743.2" textLength="31.0" lengthAdjust="spacingAndGlyphs" font-family="'Liberation Sans',sans-serif" font-size="10" font-weight="normal" fill="#000">-0.5289</text>
<rect x="1686" y="750" width="2" height="1" fill="#000" shape-rendering="crispEdges"/>
<rect x="1686" y="784" width="2" height="1" fill="#000" shape-rendering="crispEdges"/>
<rect x="1686" y="835" width="2" height="1" fill="#000" shape-rendering="crispEdges"/>
<rect x="1686" y="896" width="2" height="1" fill="#000" shape-rendering="crispEdges"/>
<rect x="1686" y="921" width="2" height="1" fill="#000" shape-rendering="crispEdges"/>
<text x="1689.0" y="759.2" textLength="14.8" lengthAdjust="spacingAndGlyphs" font-family="'Liberation Sans',sans-serif" font-size="10" font-weight="normal" fill="#000">100</text>
<text x="1688.0" y="788.2" textLength="9.8" lengthAdjust="spacingAndGlyphs" font-family="'Liberation Sans',sans-serif" font-size="10" font-weight="normal" fill="#000">80</text>
<text x="1688.0" y="839.2" textLength="9.8" lengthAdjust="spacingAndGlyphs" font-family="'Liberation Sans',sans-serif" font-size="10" font-weight="normal" fill="#000">50</text>
<text x="1688.0" y="900.2" textLength="9.8" lengthAdjust="spacingAndGlyphs" font-family="'Liberation Sans',sans-serif" font-size="10" font-weight="normal" fill="#000">15</text>
<text x="1689.0" y="919.2" textLength="5.0" lengthAdjust="spacingAndGlyphs" font-family="'Liberation Sans',sans-serif" font-size="10" font-weight="normal" fill="#000">0</text>
<g shape-rendering="crispEdges">
<rect x="62" y="923" width="1" height="3" fill="#000"/>
<rect x="126" y="923" width="1" height="3" fill="#000"/>
<rect x="190" y="923" width="1" height="3" fill="#000"/>
<rect x="254" y="923" width="1" height="3" fill="#000"/>
<rect x="318" y="923" width="1" height="3" fill="#000"/>
<rect x="382" y="923" width="1" height="3" fill="#000"/>
<rect x="446" y="923" width="1" height="3" fill="#000"/>
<rect x="510" y="923" width="1" height="3" fill="#000"/>
<rect x="574" y="923" width="1" height="3" fill="#000"/>
<rect x="638" y="923" width="1" height="3" fill="#000"/>
<rect x="702" y="923" width="1" height="3" fill="#000"/>
<rect x="766" y="923" width="1" height="3" fill="#000"/>
<rect x="830" y="923" width="1" height="3" fill="#000"/>
<rect x="894" y="923" width="1" height="3" fill="#000"/>
<rect x="958" y="923" width="1" height="3" fill="#000"/>
<rect x="1022" y="923" width="1" height="3" fill="#000"/>
<rect x="1086" y="923" width="1" height="3" fill="#000"/>
<rect x="1150" y="923" width="1" height="3" fill="#000"/>
<rect x="1214" y="923" width="1" height="3" fill="#000"/>
<rect x="1278" y="923" width="1" height="3" fill="#000"/>
<rect x="1342" y="923" width="1" height="3" fill="#000"/>
<rect x="1406" y="923" width="1" height="3" fill="#000"/>
</g>
<text x="61.4" y="935.2" textLength="50.6" lengthAdjust="spacingAndGlyphs" font-family="'Liberation Sans',sans-serif" font-size="10" font-weight="normal" fill="#000">15 Oct 2020</text>
<text x="125.4" y="935.2" textLength="50.6" lengthAdjust="spacingAndGlyphs" font-family="'Liberation Sans',sans-serif" font-size="10" font-weight="normal" fill="#000">25 Oct 2020</text>
<text x="189.4" y="935.2" textLength="47.5" lengthAdjust="spacingAndGlyphs" font-family="'Liberation Sans',sans-serif" font-size="10" font-weight="normal" fill="#000">3 Nov 2020</text>
<text x="253.4" y="935.2" textLength="52.7" lengthAdjust="spacingAndGlyphs" font-family="'Liberation Sans',sans-serif" font-size="10" font-weight="normal" fill="#000">12 Nov 2020</text>
<text x="317.4" y="935.2" textLength="52.7" lengthAdjust="spacingAndGlyphs" font-family="'Liberation Sans',sans-serif" font-size="10" font-weight="normal" fill="#000">22 Nov 2020</text>
<text x="381.4" y="935.2" textLength="47.5" lengthAdjust="spacingAndGlyphs" font-family="'Liberation Sans',sans-serif" font-size="10" font-weight="normal" fill="#000">1 Dec 2020</text>
<text x="445.4" y="935.2" textLength="52.7" lengthAdjust="spacingAndGlyphs" font-family="'Liberation Sans',sans-serif" font-size="10" font-weight="normal" fill="#000">10 Dec 2020</text>
<text x="509.4" y="935.2" textLength="52.7" lengthAdjust="spacingAndGlyphs" font-family="'Liberation Sans',sans-serif" font-size="10" font-weight="normal" fill="#000">20 Dec 2020</text>
<text x="573.4" y="935.2" textLength="52.7" lengthAdjust="spacingAndGlyphs" font-family="'Liberation Sans',sans-serif" font-size="10" font-weight="normal" fill="#000">30 Dec 2020</text>
<text x="637.4" y="935.2" textLength="51.2" lengthAdjust="spacingAndGlyphs" font-family="'Liberation Sans',sans-serif" font-size="10" font-weight="normal" fill="#000">10 Jan 2021</text>
<text x="701.4" y="935.2" textLength="51.2" lengthAdjust="spacingAndGlyphs" font-family="'Liberation Sans',sans-serif" font-size="10" font-weight="normal" fill="#000">19 Jan 2021</text>
<text x="765.4" y="935.2" textLength="51.2" lengthAdjust="spacingAndGlyphs" font-family="'Liberation Sans',sans-serif" font-size="10" font-weight="normal" fill="#000">28 Jan 2021</text>
<text x="829.4" y="935.2" textLength="47.0" lengthAdjust="spacingAndGlyphs" font-family="'Liberation Sans',sans-serif" font-size="10" font-weight="normal" fill="#000">7 Feb 2021</text>
<text x="893.4" y="935.2" textLength="52.2" lengthAdjust="spacingAndGlyphs" font-family="'Liberation Sans',sans-serif" font-size="10" font-weight="normal" fill="#000">16 Feb 2021</text>
<text x="957.4" y="935.2" textLength="52.2" lengthAdjust="spacingAndGlyphs" font-family="'Liberation Sans',sans-serif" font-size="10" font-weight="normal" fill="#000">25 Feb 2021</text>
<text x="1021.4" y="935.2" textLength="47.0" lengthAdjust="spacingAndGlyphs" font-family="'Liberation Sans',sans-serif" font-size="10" font-weight="normal" fill="#000">7 Mar 2021</text>
<text x="1085.4" y="935.2" textLength="52.2" lengthAdjust="spacingAndGlyphs" font-family="'Liberation Sans',sans-serif" font-size="10" font-weight="normal" fill="#000">16 Mar 2021</text>
<text x="1149.4" y="935.2" textLength="52.2" lengthAdjust="spacingAndGlyphs" font-family="'Liberation Sans',sans-serif" font-size="10" font-weight="normal" fill="#000">25 Mar 2021</text>
<text x="1213.4" y="935.2" textLength="44.9" lengthAdjust="spacingAndGlyphs" font-family="'Liberation Sans',sans-serif" font-size="10" font-weight="normal" fill="#000">5 Apr 2021</text>
<text x="1277.4" y="935.2" textLength="50.1" lengthAdjust="spacingAndGlyphs" font-family="'Liberation Sans',sans-serif" font-size="10" font-weight="normal" fill="#000">14 Apr 2021</text>
<text x="1341.4" y="935.2" textLength="50.1" lengthAdjust="spacingAndGlyphs" font-family="'Liberation Sans',sans-serif" font-size="10" font-weight="normal" fill="#000">23 Apr 2021</text>
<text x="1405.4" y="935.2" textLength="48.6" lengthAdjust="spacingAndGlyphs" font-family="'Liberation Sans',sans-serif" font-size="10" font-weight="normal" fill="#000">3 May 2021</text>
<text x="-3.8" y="935.2" textLength="45.5" lengthAdjust="spacingAndGlyphs" font-family="'Liberation Sans',sans-serif" font-size="10" font-weight="normal" fill="#000">6 Oct 2020</text>
<polygon points="1425,22 1436,22 1430.5,27.5" fill="#a0a0a0"/>
<polygon points="1,32 8,32 4.5,28" fill="#000"/>
<text x="13.7" y="33.2" textLength="63.3" lengthAdjust="spacingAndGlyphs" font-family="'Liberation Sans',sans-serif" font-size="10" font-weight="normal" fill="#000">USDJPY-,Daily</text>
<text x="83.8" y="33.2" textLength="32.0" lengthAdjust="spacingAndGlyphs" font-family="'Liberation Sans',sans-serif" font-size="10" font-weight="normal" fill="#000">109.085</text>
<text x="119.3" y="33.2" textLength="32.0" lengthAdjust="spacingAndGlyphs" font-family="'Liberation Sans',sans-serif" font-size="10" font-weight="normal" fill="#000">109.481</text>
<text x="155.3" y="33.2" textLength="32.0" lengthAdjust="spacingAndGlyphs" font-family="'Liberation Sans',sans-serif" font-size="10" font-weight="normal" fill="#000">109.037</text>
<text x="191.4" y="33.2" textLength="32.0" lengthAdjust="spacingAndGlyphs" font-family="'Liberation Sans',sans-serif" font-size="10" font-weight="normal" fill="#000">109.284</text>
<text x="2.5" y="589.2" textLength="130.5" lengthAdjust="spacingAndGlyphs" font-family="'Liberation Sans',sans-serif" font-size="10" font-weight="normal" fill="#000">MACD(12,26,9) 0.0408 -0.1374</text>
<text x="2.0" y="762.4" textLength="68.0" lengthAdjust="spacingAndGlyphs" font-family="'Liberation Sans',sans-serif" font-size="10" font-weight="normal" fill="#000">RSI(14) 57.7077</text>
<defs><linearGradient id="tab" x1="0" y1="0" x2="0" y2="1"><stop offset="0" stop-color="#fa5656"/><stop offset="1" stop-color="#e23434"/></linearGradient>
<linearGradient id="blk" x1="0" y1="0" x2="0" y2="1"><stop offset="0" stop-color="#e43a3a"/><stop offset="0.5" stop-color="#c81818"/><stop offset="1" stop-color="#b00404"/></linearGradient>
<linearGradient id="btn" x1="0" y1="0" x2="0" y2="1"><stop offset="0" stop-color="#f4f4f4"/><stop offset="0.45" stop-color="#e6e6e6"/><stop offset="0.55" stop-color="#d6d6d6"/><stop offset="1" stop-color="#d0d0d0"/></linearGradient></defs>
<g shape-rendering="crispEdges">
<rect x="1" y="41" width="52" height="25" fill="#c40000"/>
<rect x="2" y="42" width="50" height="23" fill="url(#tab)"/>
<rect x="1" y="65" width="109" height="40" fill="#c00000"/>
<rect x="2" y="66" width="107" height="38" fill="url(#blk)"/>
<rect x="2" y="42" width="50" height="24" fill="url(#tab)"/>
<rect x="5" y="64" width="44" height="1" fill="#8c0000"/>
<rect x="5" y="65" width="44" height="1" fill="#f06464"/>
<rect x="168" y="41" width="52" height="25" fill="#c40000"/>
<rect x="169" y="42" width="50" height="23" fill="url(#tab)"/>
<rect x="112" y="65" width="108" height="40" fill="#c00000"/>
<rect x="113" y="66" width="106" height="38" fill="url(#blk)"/>
<rect x="169" y="42" width="50" height="24" fill="url(#tab)"/>
<rect x="172" y="64" width="44" height="1" fill="#8c0000"/>
<rect x="172" y="65" width="44" height="1" fill="#f06464"/>
<rect x="55" y="41" width="111" height="22" fill="#a8a8a8"/><rect x="56" y="42" width="109" height="20" fill="#ffffff"/>
<rect x="56" y="42" width="21" height="20" fill="#b8b8b8"/><rect x="57" y="43" width="19" height="18" fill="url(#btn)"/>
<rect x="144" y="42" width="21" height="20" fill="#b8b8b8"/><rect x="145" y="43" width="19" height="18" fill="url(#btn)"/>
</g>
<polygon points="63,50 68.5,50 65.75,53" fill="#4a5ac8"/><polygon points="152,53 157.5,53 154.75,50" fill="#4a5ac8"/>
<text x="13.2" y="57.3" textLength="25.8" lengthAdjust="spacingAndGlyphs" font-family="'Liberation Sans',sans-serif" font-size="13" font-weight="normal" fill="#fff">SELL</text>
<text x="181.4" y="57.3" textLength="23.4" lengthAdjust="spacingAndGlyphs" font-family="'Liberation Sans',sans-serif" font-size="13" font-weight="normal" fill="#fff">BUY</text>
<text x="117.5" y="56.2" textLength="23.2" lengthAdjust="spacingAndGlyphs" font-family="'Liberation Sans',sans-serif" font-size="12.5" font-weight="normal" fill="#000">1.00</text>
<text x="24.0" y="96.3" textLength="21.3" lengthAdjust="spacingAndGlyphs" font-family="'Liberation Sans',sans-serif" font-size="13" font-weight="bold" fill="#fff">109</text>
<text x="48.3" y="96.0" textLength="36.2" lengthAdjust="spacingAndGlyphs" font-family="'Liberation Sans',sans-serif" font-size="33" font-weight="normal" fill="#fff">28</text>
<text x="87.3" y="80.2" textLength="8.2" lengthAdjust="spacingAndGlyphs" font-family="'Liberation Sans',sans-serif" font-size="12.5" font-weight="bold" fill="#fff">4</text>
<text x="133.9" y="96.3" textLength="21.0" lengthAdjust="spacingAndGlyphs" font-family="'Liberation Sans',sans-serif" font-size="13" font-weight="bold" fill="#fff">109</text>
<text x="159.8" y="96.0" textLength="35.8" lengthAdjust="spacingAndGlyphs" font-family="'Liberation Sans',sans-serif" font-size="33" font-weight="normal" fill="#fff">30</text>
<text x="198.9" y="80.2" textLength="7.2" lengthAdjust="spacingAndGlyphs" font-family="'Liberation Sans',sans-serif" font-size="12.5" font-weight="bold" fill="#fff">5</text>
<path transform="translate(1520.50,154.50) scale(1.880)" d="M4,0.5 L1.5,3 M3,1.5 L7.5,1.5 L3.5,5.5 M2.8,2.8 L5,4 M5.5,4.5 L1,8.8 M4,5.8 L9,5.8 L2.5,10 M4.2,7.3 L6.3,8.4" fill="none" stroke="#00ff00" stroke-width="0.612" stroke-linecap="square" stroke-linejoin="miter"/>
<path transform="translate(1541.50,154.50) scale(1.880)" d="M4.8,0 L5.6,1.1 M1,3.2 L1,1.6 L9,1.6 L9,3.2 M4,2.6 L2,5 M6,2.6 L8.6,4.9 M2.3,6.3 L7.7,6.3 M5,6.3 L5,9.6 M0.5,9.6 L9.5,9.6" fill="none" stroke="#00ff00" stroke-width="0.612" stroke-linecap="square" stroke-linejoin="miter"/>
<path transform="translate(1562.50,154.50) scale(1.880)" d="M0.5,2.2 L3.9,2.2 M2.2,0.3 L0.9,5.6 L3.9,5.6 M2.6,3.6 L2.6,10 M0.5,8.3 L4,7.2 M4.6,2.2 L9.6,2.2 M4.4,4.6 L9.8,4.6 M7.2,0 L6.2,6.6 L9.2,6.6 L7,9 M6.2,8 L8.2,10" fill="none" stroke="#00ff00" stroke-width="0.612" stroke-linecap="square" stroke-linejoin="miter"/>
<path transform="translate(1583.50,154.50) scale(1.880)" d="M0.4,3.1 L3.6,3.1 M2,0 L2,9.6 L1,8.9 M0.4,7.2 L3.6,5.6 M9.2,0.4 L5.2,1.9 M5.2,1.9 L5.2,6.2 L4.1,10 M5.2,5 L9.7,5 M7.6,5 L7.6,10" fill="none" stroke="#00ff00" stroke-width="0.612" stroke-linecap="square" stroke-linejoin="miter"/>
<path transform="translate(1604.50,154.50) scale(1.880)" d="M4.6,0 L4.6,3.5 M4.6,1.9 L8.6,1.9 M2,3.5 L8,3.5 L8,7 L2,7 Z M1.2,8.4 L0.5,10 M3.6,8.5 L4.1,10 M6.1,8.5 L6.9,10 M8.5,8.4 L9.6,10" fill="none" stroke="#00ff00" stroke-width="0.612" stroke-linecap="square" stroke-linejoin="miter"/></svg>
</body></html>
